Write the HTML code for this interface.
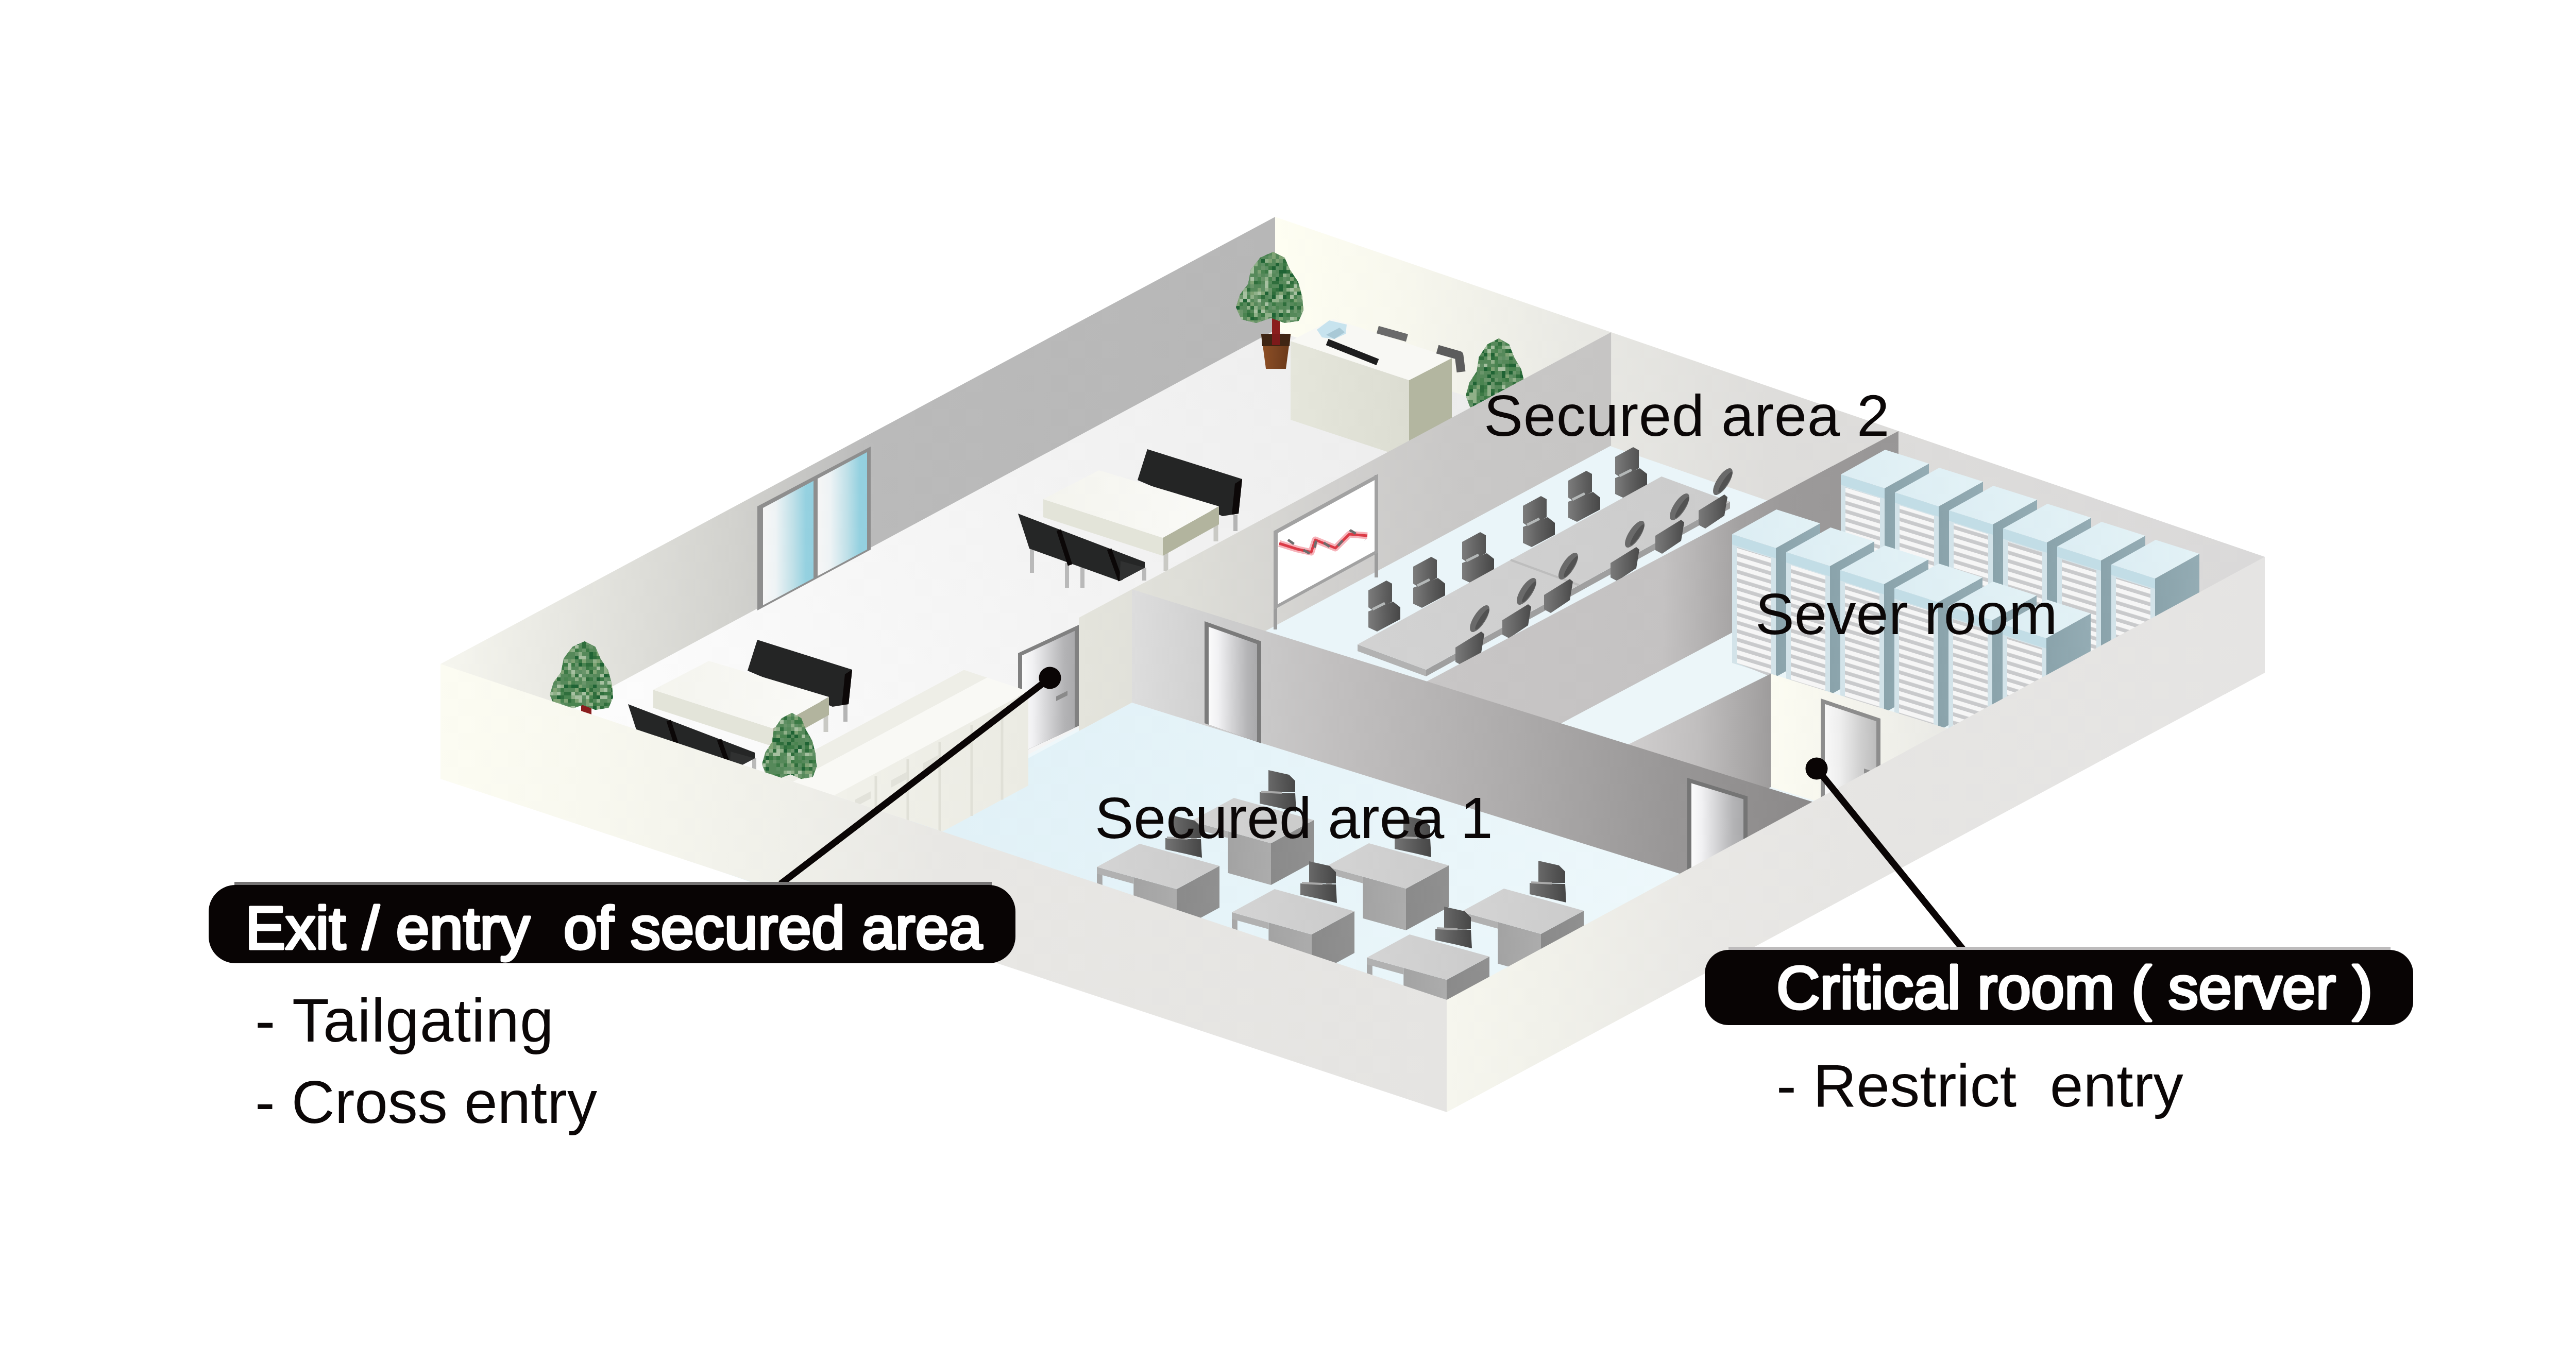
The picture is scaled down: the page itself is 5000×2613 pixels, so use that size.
<!DOCTYPE html>
<html><head><meta charset="utf-8"><title>Secured area diagram</title><style>html,body{margin:0;padding:0;background:#fff;}body{width:5000px;height:2613px;overflow:hidden;font-family:"Liberation Sans",sans-serif;}svg{display:block;}</style></head><body><svg width="5000" height="2613" viewBox="0 0 5000 2613" font-family="'Liberation Sans', sans-serif" shape-rendering="geometricPrecision"><defs><linearGradient id="g1" gradientUnits="userSpaceOnUse" x1="900" y1="1500" x2="3000" y2="700"><stop offset="0" stop-color="#ffffff"/><stop offset="0.45" stop-color="#f5f5f5"/><stop offset="1" stop-color="#ebebeb"/></linearGradient><linearGradient id="g2" gradientUnits="userSpaceOnUse" x1="1900" y1="1500" x2="3300" y2="1900"><stop offset="0" stop-color="#e1f1f7"/><stop offset="1" stop-color="#eef8fb"/></linearGradient><linearGradient id="g3" gradientUnits="userSpaceOnUse" x1="855" y1="0" x2="2475" y2="0"><stop offset="0" stop-color="#f6f6ef"/><stop offset="0.12" stop-color="#eaeae4"/><stop offset="0.35" stop-color="#d2d2ce"/><stop offset="0.52" stop-color="#bababa"/><stop offset="1" stop-color="#b7b7b7"/></linearGradient><linearGradient id="g4" gradientUnits="userSpaceOnUse" x1="2475" y1="0" x2="4396" y2="0"><stop offset="0" stop-color="#fefef2"/><stop offset="0.12" stop-color="#f8f8ee"/><stop offset="0.3" stop-color="#e9e9e4"/><stop offset="0.5" stop-color="#dedddb"/><stop offset="1" stop-color="#dad9d9"/></linearGradient><linearGradient id="g5" gradientUnits="userSpaceOnUse" x1="1481" y1="0" x2="1579" y2="0"><stop offset="0" stop-color="#f6f6f6"/><stop offset="0.25" stop-color="#eef3f5"/><stop offset="0.6" stop-color="#bfe0e8"/><stop offset="0.85" stop-color="#95d1e0"/><stop offset="1" stop-color="#93cfdf"/></linearGradient><linearGradient id="g6" gradientUnits="userSpaceOnUse" x1="1587" y1="0" x2="1683" y2="0"><stop offset="0" stop-color="#f6f6f6"/><stop offset="0.25" stop-color="#eef3f5"/><stop offset="0.6" stop-color="#bfe0e8"/><stop offset="0.85" stop-color="#95d1e0"/><stop offset="1" stop-color="#93cfdf"/></linearGradient><linearGradient id="g7" gradientUnits="userSpaceOnUse" x1="2448" y1="0" x2="2505" y2="0"><stop offset="0" stop-color="#8f4f24"/><stop offset="0.5" stop-color="#7b4421"/><stop offset="1" stop-color="#6a3818"/></linearGradient><clipPath id="c1"><polygon points="2471.1,489.0 2493.3,500.0 2503.8,523.5 2519.5,547.0 2527.4,574.6 2530.0,602.2 2520.8,622.9 2493.3,627.0 2467.1,617.3 2438.3,627.0 2409.5,620.1 2399.0,596.6 2406.9,571.8 2422.6,551.1 2427.8,523.5 2446.2,500.0"/></clipPath><linearGradient id="g8" gradientUnits="userSpaceOnUse" x1="2505" y1="0" x2="2735" y2="0"><stop offset="0" stop-color="#e5e6db"/><stop offset="1" stop-color="#dcddd2"/></linearGradient><clipPath id="c2"><polygon points="2909.3,657.0 2929.2,668.4 2938.6,692.8 2952.6,717.1 2959.7,745.7 2962.0,774.3 2953.8,795.7 2929.2,800.0 2905.8,790.0 2880.1,800.0 2854.4,792.9 2845.0,768.5 2852.0,742.8 2866.1,721.4 2870.7,692.8 2887.1,668.4"/></clipPath><linearGradient id="g9" gradientUnits="userSpaceOnUse" x1="2025" y1="969" x2="2365" y2="989"><stop offset="0" stop-color="#f4f4ee"/><stop offset="1" stop-color="#fafaf7"/></linearGradient><linearGradient id="g10" gradientUnits="userSpaceOnUse" x1="1268" y1="1339" x2="1608" y2="1359"><stop offset="0" stop-color="#f4f4ee"/><stop offset="1" stop-color="#fafaf7"/></linearGradient><clipPath id="c3"><polygon points="1134.7,1245.0 1155.6,1255.6 1165.4,1278.2 1180.2,1300.9 1187.5,1327.5 1190.0,1354.1 1181.4,1374.0 1155.6,1378.0 1131.0,1368.7 1103.9,1378.0 1076.8,1371.3 1067.0,1348.7 1074.4,1324.8 1089.1,1304.8 1094.1,1278.2 1111.3,1255.6"/></clipPath><linearGradient id="g11" gradientUnits="userSpaceOnUse" x1="2094" y1="0" x2="3130" y2="0"><stop offset="0" stop-color="#e4e4dc"/><stop offset="0.2" stop-color="#deded8"/><stop offset="0.45" stop-color="#d2d1cf"/><stop offset="0.7" stop-color="#c9c8c7"/><stop offset="1" stop-color="#c6c5c4"/></linearGradient><linearGradient id="g12" gradientUnits="userSpaceOnUse" x1="2656" y1="0" x2="2718" y2="0"><stop offset="0" stop-color="#7c7c7c"/><stop offset="0.45" stop-color="#626262"/><stop offset="1" stop-color="#474747"/></linearGradient><linearGradient id="g13" gradientUnits="userSpaceOnUse" x1="2743" y1="0" x2="2805" y2="0"><stop offset="0" stop-color="#7c7c7c"/><stop offset="0.45" stop-color="#626262"/><stop offset="1" stop-color="#474747"/></linearGradient><linearGradient id="g14" gradientUnits="userSpaceOnUse" x1="2838" y1="0" x2="2900" y2="0"><stop offset="0" stop-color="#7c7c7c"/><stop offset="0.45" stop-color="#626262"/><stop offset="1" stop-color="#474747"/></linearGradient><linearGradient id="g15" gradientUnits="userSpaceOnUse" x1="2956" y1="0" x2="3018" y2="0"><stop offset="0" stop-color="#7c7c7c"/><stop offset="0.45" stop-color="#626262"/><stop offset="1" stop-color="#474747"/></linearGradient><linearGradient id="g16" gradientUnits="userSpaceOnUse" x1="3044" y1="0" x2="3106" y2="0"><stop offset="0" stop-color="#7c7c7c"/><stop offset="0.45" stop-color="#626262"/><stop offset="1" stop-color="#474747"/></linearGradient><linearGradient id="g17" gradientUnits="userSpaceOnUse" x1="3135" y1="0" x2="3197" y2="0"><stop offset="0" stop-color="#7c7c7c"/><stop offset="0.45" stop-color="#626262"/><stop offset="1" stop-color="#474747"/></linearGradient><linearGradient id="g18" gradientUnits="userSpaceOnUse" x1="2635" y1="1250" x2="3358" y2="975"><stop offset="0" stop-color="#d2d2d2"/><stop offset="1" stop-color="#cccccc"/></linearGradient><linearGradient id="g19" gradientUnits="userSpaceOnUse" x1="3297" y1="0" x2="3353" y2="0"><stop offset="0" stop-color="#7a7a7a"/><stop offset="0.6" stop-color="#5e5e5e"/><stop offset="1" stop-color="#4a4a4a"/></linearGradient><linearGradient id="g20" gradientUnits="userSpaceOnUse" x1="3213" y1="0" x2="3269" y2="0"><stop offset="0" stop-color="#7a7a7a"/><stop offset="0.6" stop-color="#5e5e5e"/><stop offset="1" stop-color="#4a4a4a"/></linearGradient><linearGradient id="g21" gradientUnits="userSpaceOnUse" x1="3126" y1="0" x2="3182" y2="0"><stop offset="0" stop-color="#7a7a7a"/><stop offset="0.6" stop-color="#5e5e5e"/><stop offset="1" stop-color="#4a4a4a"/></linearGradient><linearGradient id="g22" gradientUnits="userSpaceOnUse" x1="2997" y1="0" x2="3053" y2="0"><stop offset="0" stop-color="#7a7a7a"/><stop offset="0.6" stop-color="#5e5e5e"/><stop offset="1" stop-color="#4a4a4a"/></linearGradient><linearGradient id="g23" gradientUnits="userSpaceOnUse" x1="2916" y1="0" x2="2972" y2="0"><stop offset="0" stop-color="#7a7a7a"/><stop offset="0.6" stop-color="#5e5e5e"/><stop offset="1" stop-color="#4a4a4a"/></linearGradient><linearGradient id="g24" gradientUnits="userSpaceOnUse" x1="2825" y1="0" x2="2881" y2="0"><stop offset="0" stop-color="#7a7a7a"/><stop offset="0.6" stop-color="#5e5e5e"/><stop offset="1" stop-color="#4a4a4a"/></linearGradient><linearGradient id="g25" gradientUnits="userSpaceOnUse" x1="2769" y1="0" x2="3686" y2="0"><stop offset="0" stop-color="#c8c6c6"/><stop offset="0.5" stop-color="#c4c2c2"/><stop offset="0.58" stop-color="#b5b3b3"/><stop offset="0.66" stop-color="#a4a2a2"/><stop offset="0.75" stop-color="#9c9a9a"/><stop offset="1" stop-color="#989696"/></linearGradient><pattern id="st" width="40" height="16.5" patternUnits="userSpaceOnUse" patternTransform="skewY(17)"><rect width="40" height="16.5" fill="#c9cacc"/><rect y="0" width="40" height="9" fill="#f6f6f6"/></pattern><linearGradient id="g26" gradientUnits="userSpaceOnUse" x1="3658" y1="0" x2="3744" y2="0"><stop offset="0" stop-color="#8aa3ab"/><stop offset="1" stop-color="#94acb4"/></linearGradient><linearGradient id="g27" gradientUnits="userSpaceOnUse" x1="3573" y1="921" x2="3744" y2="900"><stop offset="0" stop-color="#dcedf3"/><stop offset="1" stop-color="#e3f2f6"/></linearGradient><linearGradient id="g28" gradientUnits="userSpaceOnUse" x1="3763" y1="0" x2="3849" y2="0"><stop offset="0" stop-color="#8aa3ab"/><stop offset="1" stop-color="#94acb4"/></linearGradient><linearGradient id="g29" gradientUnits="userSpaceOnUse" x1="3678" y1="956" x2="3849" y2="935"><stop offset="0" stop-color="#dcedf3"/><stop offset="1" stop-color="#e3f2f6"/></linearGradient><linearGradient id="g30" gradientUnits="userSpaceOnUse" x1="3868" y1="0" x2="3954" y2="0"><stop offset="0" stop-color="#8aa3ab"/><stop offset="1" stop-color="#94acb4"/></linearGradient><linearGradient id="g31" gradientUnits="userSpaceOnUse" x1="3783" y1="991" x2="3954" y2="970"><stop offset="0" stop-color="#dcedf3"/><stop offset="1" stop-color="#e3f2f6"/></linearGradient><linearGradient id="g32" gradientUnits="userSpaceOnUse" x1="3973" y1="0" x2="4059" y2="0"><stop offset="0" stop-color="#8aa3ab"/><stop offset="1" stop-color="#94acb4"/></linearGradient><linearGradient id="g33" gradientUnits="userSpaceOnUse" x1="3888" y1="1026" x2="4059" y2="1005"><stop offset="0" stop-color="#dcedf3"/><stop offset="1" stop-color="#e3f2f6"/></linearGradient><linearGradient id="g34" gradientUnits="userSpaceOnUse" x1="4078" y1="0" x2="4164" y2="0"><stop offset="0" stop-color="#8aa3ab"/><stop offset="1" stop-color="#94acb4"/></linearGradient><linearGradient id="g35" gradientUnits="userSpaceOnUse" x1="3993" y1="1061" x2="4164" y2="1040"><stop offset="0" stop-color="#dcedf3"/><stop offset="1" stop-color="#e3f2f6"/></linearGradient><linearGradient id="g36" gradientUnits="userSpaceOnUse" x1="4183" y1="0" x2="4269" y2="0"><stop offset="0" stop-color="#8aa3ab"/><stop offset="1" stop-color="#94acb4"/></linearGradient><linearGradient id="g37" gradientUnits="userSpaceOnUse" x1="4098" y1="1096" x2="4269" y2="1075"><stop offset="0" stop-color="#dcedf3"/><stop offset="1" stop-color="#e3f2f6"/></linearGradient><linearGradient id="g38" gradientUnits="userSpaceOnUse" x1="3447" y1="0" x2="3533" y2="0"><stop offset="0" stop-color="#8aa3ab"/><stop offset="1" stop-color="#94acb4"/></linearGradient><linearGradient id="g39" gradientUnits="userSpaceOnUse" x1="3362" y1="1037" x2="3533" y2="1016"><stop offset="0" stop-color="#dcedf3"/><stop offset="1" stop-color="#e3f2f6"/></linearGradient><linearGradient id="g40" gradientUnits="userSpaceOnUse" x1="3552" y1="0" x2="3638" y2="0"><stop offset="0" stop-color="#8aa3ab"/><stop offset="1" stop-color="#94acb4"/></linearGradient><linearGradient id="g41" gradientUnits="userSpaceOnUse" x1="3467" y1="1072" x2="3638" y2="1051"><stop offset="0" stop-color="#dcedf3"/><stop offset="1" stop-color="#e3f2f6"/></linearGradient><linearGradient id="g42" gradientUnits="userSpaceOnUse" x1="3657" y1="0" x2="3743" y2="0"><stop offset="0" stop-color="#8aa3ab"/><stop offset="1" stop-color="#94acb4"/></linearGradient><linearGradient id="g43" gradientUnits="userSpaceOnUse" x1="3572" y1="1107" x2="3743" y2="1086"><stop offset="0" stop-color="#dcedf3"/><stop offset="1" stop-color="#e3f2f6"/></linearGradient><linearGradient id="g44" gradientUnits="userSpaceOnUse" x1="3762" y1="0" x2="3848" y2="0"><stop offset="0" stop-color="#8aa3ab"/><stop offset="1" stop-color="#94acb4"/></linearGradient><linearGradient id="g45" gradientUnits="userSpaceOnUse" x1="3677" y1="1142" x2="3848" y2="1121"><stop offset="0" stop-color="#dcedf3"/><stop offset="1" stop-color="#e3f2f6"/></linearGradient><linearGradient id="g46" gradientUnits="userSpaceOnUse" x1="3867" y1="0" x2="3953" y2="0"><stop offset="0" stop-color="#8aa3ab"/><stop offset="1" stop-color="#94acb4"/></linearGradient><linearGradient id="g47" gradientUnits="userSpaceOnUse" x1="3782" y1="1177" x2="3953" y2="1156"><stop offset="0" stop-color="#dcedf3"/><stop offset="1" stop-color="#e3f2f6"/></linearGradient><linearGradient id="g48" gradientUnits="userSpaceOnUse" x1="3972" y1="0" x2="4058" y2="0"><stop offset="0" stop-color="#8aa3ab"/><stop offset="1" stop-color="#94acb4"/></linearGradient><linearGradient id="g49" gradientUnits="userSpaceOnUse" x1="3887" y1="1212" x2="4058" y2="1191"><stop offset="0" stop-color="#dcedf3"/><stop offset="1" stop-color="#e3f2f6"/></linearGradient><linearGradient id="g50" gradientUnits="userSpaceOnUse" x1="3161" y1="0" x2="3437" y2="0"><stop offset="0" stop-color="#d0cece"/><stop offset="0.5" stop-color="#c0bebe"/><stop offset="1" stop-color="#9e9c9c"/></linearGradient><linearGradient id="g51" gradientUnits="userSpaceOnUse" x1="3437" y1="0" x2="3780" y2="0"><stop offset="0" stop-color="#fcfcf2"/><stop offset="0.5" stop-color="#f3f3ec"/><stop offset="1" stop-color="#e9e9e5"/></linearGradient><linearGradient id="g52" gradientUnits="userSpaceOnUse" x1="3542" y1="0" x2="3642" y2="0"><stop offset="0" stop-color="#f8f8f8"/><stop offset="0.3" stop-color="#eeeeee"/><stop offset="0.7" stop-color="#cfcfcf"/><stop offset="1" stop-color="#bdbdbd"/></linearGradient><linearGradient id="g53" gradientUnits="userSpaceOnUse" x1="2197" y1="0" x2="3518" y2="0"><stop offset="0" stop-color="#dddddd"/><stop offset="0.12" stop-color="#cfcfcf"/><stop offset="0.3" stop-color="#c1bfbf"/><stop offset="0.55" stop-color="#aeacac"/><stop offset="0.8" stop-color="#989696"/><stop offset="1" stop-color="#8b8989"/></linearGradient><linearGradient id="g54" gradientUnits="userSpaceOnUse" x1="2346" y1="0" x2="2440" y2="0"><stop offset="0" stop-color="#fbfbfb"/><stop offset="0.2" stop-color="#f1f1f3"/><stop offset="0.5" stop-color="#d2d2d4"/><stop offset="0.8" stop-color="#b4b4b6"/><stop offset="1" stop-color="#aaaaac"/></linearGradient><linearGradient id="g55" gradientUnits="userSpaceOnUse" x1="3283" y1="0" x2="3384" y2="0"><stop offset="0" stop-color="#fbfbfb"/><stop offset="0.2" stop-color="#f1f1f3"/><stop offset="0.5" stop-color="#d2d2d4"/><stop offset="0.8" stop-color="#b4b4b6"/><stop offset="1" stop-color="#aaaaac"/></linearGradient><linearGradient id="g56" gradientUnits="userSpaceOnUse" x1="1984" y1="0" x2="2086" y2="0"><stop offset="0" stop-color="#fbfbfb"/><stop offset="0.2" stop-color="#f1f1f3"/><stop offset="0.5" stop-color="#d2d2d4"/><stop offset="0.8" stop-color="#b4b4b6"/><stop offset="1" stop-color="#aaaaac"/></linearGradient><linearGradient id="g57" gradientUnits="userSpaceOnUse" x1="1617" y1="0" x2="1996" y2="0"><stop offset="0" stop-color="#f1f1ea"/><stop offset="1" stop-color="#ebebe3"/></linearGradient><clipPath id="c4"><polygon points="1537.3,1384.0 1555.3,1394.2 1563.8,1416.0 1576.5,1437.8 1582.9,1463.4 1585.0,1489.0 1577.6,1508.2 1555.3,1512.0 1534.1,1503.0 1510.8,1512.0 1487.5,1505.6 1479.0,1483.8 1485.4,1460.8 1498.1,1441.6 1502.3,1416.0 1517.2,1394.2"/></clipPath><linearGradient id="g58" gradientUnits="userSpaceOnUse" x1="2445" y1="0" x2="2516" y2="0"><stop offset="0" stop-color="#747474"/><stop offset="0.5" stop-color="#5c5c5c"/><stop offset="1" stop-color="#464646"/></linearGradient><linearGradient id="g59" gradientUnits="userSpaceOnUse" x1="2383.3" y1="0" x2="2467" y2="0"><stop offset="0" stop-color="#a3a3a3"/><stop offset="1" stop-color="#acacac"/></linearGradient><linearGradient id="g60" gradientUnits="userSpaceOnUse" x1="2467" y1="0" x2="2550" y2="0"><stop offset="0" stop-color="#8a8a8a"/><stop offset="1" stop-color="#909090"/></linearGradient><linearGradient id="g61" gradientUnits="userSpaceOnUse" x1="2312" y1="1594" x2="2550" y2="1584"><stop offset="0" stop-color="#d4d4d4"/><stop offset="1" stop-color="#cbcbcb"/></linearGradient><linearGradient id="g62" gradientUnits="userSpaceOnUse" x1="2707" y1="0" x2="2778" y2="0"><stop offset="0" stop-color="#747474"/><stop offset="0.5" stop-color="#5c5c5c"/><stop offset="1" stop-color="#464646"/></linearGradient><linearGradient id="g63" gradientUnits="userSpaceOnUse" x1="2645.3" y1="0" x2="2729" y2="0"><stop offset="0" stop-color="#a3a3a3"/><stop offset="1" stop-color="#acacac"/></linearGradient><linearGradient id="g64" gradientUnits="userSpaceOnUse" x1="2729" y1="0" x2="2812" y2="0"><stop offset="0" stop-color="#8a8a8a"/><stop offset="1" stop-color="#909090"/></linearGradient><linearGradient id="g65" gradientUnits="userSpaceOnUse" x1="2574" y1="1682" x2="2812" y2="1672"><stop offset="0" stop-color="#d4d4d4"/><stop offset="1" stop-color="#cbcbcb"/></linearGradient><linearGradient id="g66" gradientUnits="userSpaceOnUse" x1="2969" y1="0" x2="3040" y2="0"><stop offset="0" stop-color="#747474"/><stop offset="0.5" stop-color="#5c5c5c"/><stop offset="1" stop-color="#464646"/></linearGradient><linearGradient id="g67" gradientUnits="userSpaceOnUse" x1="2907.3" y1="0" x2="2991" y2="0"><stop offset="0" stop-color="#a3a3a3"/><stop offset="1" stop-color="#acacac"/></linearGradient><linearGradient id="g68" gradientUnits="userSpaceOnUse" x1="2991" y1="0" x2="3074" y2="0"><stop offset="0" stop-color="#8a8a8a"/><stop offset="1" stop-color="#909090"/></linearGradient><linearGradient id="g69" gradientUnits="userSpaceOnUse" x1="2836" y1="1770" x2="3074" y2="1760"><stop offset="0" stop-color="#d4d4d4"/><stop offset="1" stop-color="#cbcbcb"/></linearGradient><linearGradient id="g70" gradientUnits="userSpaceOnUse" x1="2262" y1="0" x2="2333" y2="0"><stop offset="0" stop-color="#747474"/><stop offset="0.5" stop-color="#5c5c5c"/><stop offset="1" stop-color="#464646"/></linearGradient><linearGradient id="g71" gradientUnits="userSpaceOnUse" x1="2200.3" y1="0" x2="2284" y2="0"><stop offset="0" stop-color="#a3a3a3"/><stop offset="1" stop-color="#acacac"/></linearGradient><linearGradient id="g72" gradientUnits="userSpaceOnUse" x1="2284" y1="0" x2="2367" y2="0"><stop offset="0" stop-color="#8a8a8a"/><stop offset="1" stop-color="#909090"/></linearGradient><linearGradient id="g73" gradientUnits="userSpaceOnUse" x1="2129" y1="1683" x2="2367" y2="1673"><stop offset="0" stop-color="#d4d4d4"/><stop offset="1" stop-color="#cbcbcb"/></linearGradient><linearGradient id="g74" gradientUnits="userSpaceOnUse" x1="2524" y1="0" x2="2595" y2="0"><stop offset="0" stop-color="#747474"/><stop offset="0.5" stop-color="#5c5c5c"/><stop offset="1" stop-color="#464646"/></linearGradient><linearGradient id="g75" gradientUnits="userSpaceOnUse" x1="2462.3" y1="0" x2="2546" y2="0"><stop offset="0" stop-color="#a3a3a3"/><stop offset="1" stop-color="#acacac"/></linearGradient><linearGradient id="g76" gradientUnits="userSpaceOnUse" x1="2546" y1="0" x2="2629" y2="0"><stop offset="0" stop-color="#8a8a8a"/><stop offset="1" stop-color="#909090"/></linearGradient><linearGradient id="g77" gradientUnits="userSpaceOnUse" x1="2391" y1="1771" x2="2629" y2="1761"><stop offset="0" stop-color="#d4d4d4"/><stop offset="1" stop-color="#cbcbcb"/></linearGradient><linearGradient id="g78" gradientUnits="userSpaceOnUse" x1="2786" y1="0" x2="2857" y2="0"><stop offset="0" stop-color="#747474"/><stop offset="0.5" stop-color="#5c5c5c"/><stop offset="1" stop-color="#464646"/></linearGradient><linearGradient id="g79" gradientUnits="userSpaceOnUse" x1="2724.3" y1="0" x2="2808" y2="0"><stop offset="0" stop-color="#a3a3a3"/><stop offset="1" stop-color="#acacac"/></linearGradient><linearGradient id="g80" gradientUnits="userSpaceOnUse" x1="2808" y1="0" x2="2891" y2="0"><stop offset="0" stop-color="#8a8a8a"/><stop offset="1" stop-color="#909090"/></linearGradient><linearGradient id="g81" gradientUnits="userSpaceOnUse" x1="2653" y1="1859" x2="2891" y2="1849"><stop offset="0" stop-color="#d4d4d4"/><stop offset="1" stop-color="#cbcbcb"/></linearGradient><linearGradient id="g82" gradientUnits="userSpaceOnUse" x1="855" y1="0" x2="2808" y2="0"><stop offset="0" stop-color="#fcfcf2"/><stop offset="0.15" stop-color="#f8f8ef"/><stop offset="0.35" stop-color="#efefe9"/><stop offset="0.5" stop-color="#e8e7e4"/><stop offset="1" stop-color="#e5e4e2"/></linearGradient><linearGradient id="g83" gradientUnits="userSpaceOnUse" x1="2808" y1="0" x2="4396" y2="0"><stop offset="0" stop-color="#f6f6ee"/><stop offset="0.12" stop-color="#f1f1ea"/><stop offset="0.3" stop-color="#e9e8e5"/><stop offset="0.5" stop-color="#e6e5e3"/><stop offset="1" stop-color="#e5e4e3"/></linearGradient></defs><rect width="5000" height="2613" fill="#ffffff"/><polygon points="855.0,1502.0 2475.0,641.0 4396.0,1296.0 2808.0,2149.0" fill="#eef7fa" />
<polygon points="855.0,1502.0 2475.0,641.0 3127.1,865.0 1512.2,1721.4" fill="url(#g1)" />
<polygon points="2197.0,1364.0 3517.8,1776.6 4396.0,1296.0 2808.0,2149.0 855.0,1502.0 1512.2,1731.4" fill="url(#g2)" />
<polygon points="3127.1,865.0 3684.9,1056.7 2769.0,1543.0 2197.0,1364.0" fill="#eaf5f9" />
<polygon points="3684.9,1056.7 4396.0,1296.0 3517.8,1776.6 2769.0,1543.0" fill="#ecf6f9" />
<polygon points="2475.0,421.0 855.0,1289.0 855.0,1512.0 2475.0,641.0" fill="url(#g3)" />
<polygon points="2475.0,421.0 4396.0,1081.0 4396.0,1306.0 2475.0,641.0" fill="url(#g4)" />
<polygon points="1470.0,983.0 1690.0,867.0 1690.0,1067.0 1470.0,1185.0" fill="#8e8e8e" />
<polygon points="1481.0,986.1 1579.0,933.5 1579.0,1122.5 1481.0,1175.1" fill="url(#g5)" />
<polygon points="1587.0,929.2 1683.0,877.7 1683.0,1066.7 1587.0,1118.2" fill="url(#g6)" />
<g>
<rect x="2469" y="610" width="15" height="58" fill="#8a1d1d"/>
<polygon points="2448.0,648.0 2505.0,648.0 2495.9,716.0 2457.1,716.0" fill="url(#g7)" />
<polygon points="2448.0,648.0 2505.0,648.0 2503.0,672.0 2450.0,672.0" fill="#3f2513" />
<rect x="2469" y="648" width="15" height="22" fill="#7d1a1a"/>
<polygon points="2471.1,489.0 2493.3,500.0 2503.8,523.5 2519.5,547.0 2527.4,574.6 2530.0,602.2 2520.8,622.9 2493.3,627.0 2467.1,617.3 2438.3,627.0 2409.5,620.1 2399.0,596.6 2406.9,571.8 2422.6,551.1 2427.8,523.5 2446.2,500.0" fill="#56895a" />
<g clip-path="url(#c1)">
<rect x="2399" y="489" width="7" height="7" fill="#7fa374"/>
<rect x="2399" y="496" width="7" height="7" fill="#2f6e3c"/>
<rect x="2399" y="503" width="7" height="7" fill="#5e8f63"/>
<rect x="2399" y="510" width="7" height="7" fill="#2f6e3c"/>
<rect x="2399" y="524" width="7" height="7" fill="#3c7a45"/>
<rect x="2399" y="531" width="7" height="7" fill="#3c7a45"/>
<rect x="2399" y="538" width="7" height="7" fill="#5e8f63"/>
<rect x="2399" y="545" width="7" height="7" fill="#3c7a45"/>
<rect x="2399" y="559" width="7" height="7" fill="#2f6e3c"/>
<rect x="2399" y="566" width="7" height="7" fill="#4a8450"/>
<rect x="2399" y="573" width="7" height="7" fill="#8fb088"/>
<rect x="2399" y="580" width="7" height="7" fill="#7fa374"/>
<rect x="2399" y="587" width="7" height="7" fill="#7fa374"/>
<rect x="2399" y="594" width="7" height="7" fill="#1f6334"/>
<rect x="2399" y="601" width="7" height="7" fill="#7fa374"/>
<rect x="2399" y="608" width="7" height="7" fill="#8fb088"/>
<rect x="2399" y="615" width="7" height="7" fill="#5e8f63"/>
<rect x="2406" y="489" width="7" height="7" fill="#8fb088"/>
<rect x="2406" y="496" width="7" height="7" fill="#5e8f63"/>
<rect x="2406" y="503" width="7" height="7" fill="#6a956a"/>
<rect x="2406" y="510" width="7" height="7" fill="#a6c0a0"/>
<rect x="2406" y="517" width="7" height="7" fill="#8fb088"/>
<rect x="2406" y="531" width="7" height="7" fill="#8fb088"/>
<rect x="2406" y="538" width="7" height="7" fill="#1f6334"/>
<rect x="2406" y="545" width="7" height="7" fill="#6a956a"/>
<rect x="2406" y="559" width="7" height="7" fill="#3c7a45"/>
<rect x="2406" y="566" width="7" height="7" fill="#4a8450"/>
<rect x="2406" y="573" width="7" height="7" fill="#6a956a"/>
<rect x="2406" y="580" width="7" height="7" fill="#a6c0a0"/>
<rect x="2406" y="587" width="7" height="7" fill="#3c7a45"/>
<rect x="2406" y="601" width="7" height="7" fill="#6a956a"/>
<rect x="2406" y="608" width="7" height="7" fill="#6a956a"/>
<rect x="2406" y="615" width="7" height="7" fill="#a6c0a0"/>
<rect x="2406" y="622" width="7" height="7" fill="#3c7a45"/>
<rect x="2413" y="496" width="7" height="7" fill="#3c7a45"/>
<rect x="2413" y="503" width="7" height="7" fill="#1f6334"/>
<rect x="2413" y="510" width="7" height="7" fill="#a6c0a0"/>
<rect x="2413" y="517" width="7" height="7" fill="#4a8450"/>
<rect x="2413" y="531" width="7" height="7" fill="#a6c0a0"/>
<rect x="2413" y="538" width="7" height="7" fill="#3c7a45"/>
<rect x="2413" y="545" width="7" height="7" fill="#8fb088"/>
<rect x="2413" y="559" width="7" height="7" fill="#8fb088"/>
<rect x="2413" y="566" width="7" height="7" fill="#a6c0a0"/>
<rect x="2413" y="573" width="7" height="7" fill="#a6c0a0"/>
<rect x="2413" y="580" width="7" height="7" fill="#1f6334"/>
<rect x="2413" y="608" width="7" height="7" fill="#4a8450"/>
<rect x="2413" y="622" width="7" height="7" fill="#4a8450"/>
<rect x="2420" y="496" width="7" height="7" fill="#7fa374"/>
<rect x="2420" y="503" width="7" height="7" fill="#8fb088"/>
<rect x="2420" y="510" width="7" height="7" fill="#7fa374"/>
<rect x="2420" y="517" width="7" height="7" fill="#2f6e3c"/>
<rect x="2420" y="524" width="7" height="7" fill="#5e8f63"/>
<rect x="2420" y="531" width="7" height="7" fill="#6a956a"/>
<rect x="2420" y="545" width="7" height="7" fill="#5e8f63"/>
<rect x="2420" y="559" width="7" height="7" fill="#2f6e3c"/>
<rect x="2420" y="566" width="7" height="7" fill="#5e8f63"/>
<rect x="2420" y="573" width="7" height="7" fill="#4a8450"/>
<rect x="2420" y="580" width="7" height="7" fill="#a6c0a0"/>
<rect x="2420" y="587" width="7" height="7" fill="#2f6e3c"/>
<rect x="2420" y="594" width="7" height="7" fill="#8fb088"/>
<rect x="2420" y="601" width="7" height="7" fill="#3c7a45"/>
<rect x="2420" y="608" width="7" height="7" fill="#2f6e3c"/>
<rect x="2420" y="615" width="7" height="7" fill="#7fa374"/>
<rect x="2420" y="622" width="7" height="7" fill="#6a956a"/>
<rect x="2427" y="489" width="7" height="7" fill="#3c7a45"/>
<rect x="2427" y="503" width="7" height="7" fill="#7fa374"/>
<rect x="2427" y="510" width="7" height="7" fill="#6a956a"/>
<rect x="2427" y="517" width="7" height="7" fill="#a6c0a0"/>
<rect x="2427" y="524" width="7" height="7" fill="#a6c0a0"/>
<rect x="2427" y="538" width="7" height="7" fill="#a6c0a0"/>
<rect x="2427" y="545" width="7" height="7" fill="#7fa374"/>
<rect x="2427" y="552" width="7" height="7" fill="#6a956a"/>
<rect x="2427" y="566" width="7" height="7" fill="#7fa374"/>
<rect x="2427" y="573" width="7" height="7" fill="#8fb088"/>
<rect x="2427" y="587" width="7" height="7" fill="#7fa374"/>
<rect x="2427" y="594" width="7" height="7" fill="#2f6e3c"/>
<rect x="2427" y="608" width="7" height="7" fill="#3c7a45"/>
<rect x="2427" y="615" width="7" height="7" fill="#1f6334"/>
<rect x="2427" y="622" width="7" height="7" fill="#7fa374"/>
<rect x="2434" y="489" width="7" height="7" fill="#8fb088"/>
<rect x="2434" y="496" width="7" height="7" fill="#5e8f63"/>
<rect x="2434" y="503" width="7" height="7" fill="#8fb088"/>
<rect x="2434" y="510" width="7" height="7" fill="#8fb088"/>
<rect x="2434" y="538" width="7" height="7" fill="#5e8f63"/>
<rect x="2434" y="545" width="7" height="7" fill="#2f6e3c"/>
<rect x="2434" y="566" width="7" height="7" fill="#8fb088"/>
<rect x="2434" y="573" width="7" height="7" fill="#6a956a"/>
<rect x="2434" y="580" width="7" height="7" fill="#6a956a"/>
<rect x="2434" y="594" width="7" height="7" fill="#8fb088"/>
<rect x="2434" y="601" width="7" height="7" fill="#a6c0a0"/>
<rect x="2434" y="608" width="7" height="7" fill="#8fb088"/>
<rect x="2434" y="615" width="7" height="7" fill="#2f6e3c"/>
<rect x="2434" y="622" width="7" height="7" fill="#6a956a"/>
<rect x="2441" y="496" width="7" height="7" fill="#3c7a45"/>
<rect x="2441" y="524" width="7" height="7" fill="#7fa374"/>
<rect x="2441" y="531" width="7" height="7" fill="#6a956a"/>
<rect x="2441" y="538" width="7" height="7" fill="#4a8450"/>
<rect x="2441" y="545" width="7" height="7" fill="#3c7a45"/>
<rect x="2441" y="559" width="7" height="7" fill="#7fa374"/>
<rect x="2441" y="566" width="7" height="7" fill="#a6c0a0"/>
<rect x="2441" y="580" width="7" height="7" fill="#a6c0a0"/>
<rect x="2441" y="587" width="7" height="7" fill="#6a956a"/>
<rect x="2441" y="594" width="7" height="7" fill="#5e8f63"/>
<rect x="2441" y="601" width="7" height="7" fill="#2f6e3c"/>
<rect x="2441" y="622" width="7" height="7" fill="#7fa374"/>
<rect x="2448" y="489" width="7" height="7" fill="#8fb088"/>
<rect x="2448" y="503" width="7" height="7" fill="#1f6334"/>
<rect x="2448" y="510" width="7" height="7" fill="#5e8f63"/>
<rect x="2448" y="517" width="7" height="7" fill="#6a956a"/>
<rect x="2448" y="524" width="7" height="7" fill="#4a8450"/>
<rect x="2448" y="538" width="7" height="7" fill="#6a956a"/>
<rect x="2448" y="552" width="7" height="7" fill="#5e8f63"/>
<rect x="2448" y="559" width="7" height="7" fill="#5e8f63"/>
<rect x="2448" y="566" width="7" height="7" fill="#7fa374"/>
<rect x="2448" y="573" width="7" height="7" fill="#2f6e3c"/>
<rect x="2448" y="594" width="7" height="7" fill="#7fa374"/>
<rect x="2448" y="601" width="7" height="7" fill="#a6c0a0"/>
<rect x="2448" y="608" width="7" height="7" fill="#3c7a45"/>
<rect x="2448" y="615" width="7" height="7" fill="#6a956a"/>
<rect x="2448" y="622" width="7" height="7" fill="#5e8f63"/>
<rect x="2455" y="489" width="7" height="7" fill="#3c7a45"/>
<rect x="2455" y="503" width="7" height="7" fill="#8fb088"/>
<rect x="2455" y="510" width="7" height="7" fill="#3c7a45"/>
<rect x="2455" y="517" width="7" height="7" fill="#5e8f63"/>
<rect x="2455" y="524" width="7" height="7" fill="#3c7a45"/>
<rect x="2455" y="531" width="7" height="7" fill="#5e8f63"/>
<rect x="2455" y="538" width="7" height="7" fill="#8fb088"/>
<rect x="2455" y="545" width="7" height="7" fill="#a6c0a0"/>
<rect x="2455" y="552" width="7" height="7" fill="#a6c0a0"/>
<rect x="2455" y="559" width="7" height="7" fill="#8fb088"/>
<rect x="2455" y="566" width="7" height="7" fill="#1f6334"/>
<rect x="2455" y="587" width="7" height="7" fill="#a6c0a0"/>
<rect x="2455" y="594" width="7" height="7" fill="#3c7a45"/>
<rect x="2455" y="601" width="7" height="7" fill="#6a956a"/>
<rect x="2455" y="608" width="7" height="7" fill="#8fb088"/>
<rect x="2455" y="615" width="7" height="7" fill="#8fb088"/>
<rect x="2455" y="622" width="7" height="7" fill="#3c7a45"/>
<rect x="2462" y="496" width="7" height="7" fill="#6a956a"/>
<rect x="2462" y="503" width="7" height="7" fill="#7fa374"/>
<rect x="2462" y="517" width="7" height="7" fill="#3c7a45"/>
<rect x="2462" y="524" width="7" height="7" fill="#a6c0a0"/>
<rect x="2462" y="531" width="7" height="7" fill="#8fb088"/>
<rect x="2462" y="538" width="7" height="7" fill="#4a8450"/>
<rect x="2462" y="552" width="7" height="7" fill="#4a8450"/>
<rect x="2462" y="559" width="7" height="7" fill="#6a956a"/>
<rect x="2462" y="566" width="7" height="7" fill="#6a956a"/>
<rect x="2462" y="573" width="7" height="7" fill="#5e8f63"/>
<rect x="2462" y="580" width="7" height="7" fill="#2f6e3c"/>
<rect x="2462" y="587" width="7" height="7" fill="#5e8f63"/>
<rect x="2462" y="594" width="7" height="7" fill="#5e8f63"/>
<rect x="2462" y="608" width="7" height="7" fill="#8fb088"/>
<rect x="2462" y="622" width="7" height="7" fill="#1f6334"/>
<rect x="2469" y="489" width="7" height="7" fill="#7fa374"/>
<rect x="2469" y="496" width="7" height="7" fill="#7fa374"/>
<rect x="2469" y="517" width="7" height="7" fill="#1f6334"/>
<rect x="2469" y="524" width="7" height="7" fill="#5e8f63"/>
<rect x="2469" y="538" width="7" height="7" fill="#6a956a"/>
<rect x="2469" y="545" width="7" height="7" fill="#2f6e3c"/>
<rect x="2469" y="559" width="7" height="7" fill="#3c7a45"/>
<rect x="2469" y="566" width="7" height="7" fill="#2f6e3c"/>
<rect x="2469" y="573" width="7" height="7" fill="#1f6334"/>
<rect x="2469" y="580" width="7" height="7" fill="#8fb088"/>
<rect x="2469" y="587" width="7" height="7" fill="#3c7a45"/>
<rect x="2469" y="594" width="7" height="7" fill="#6a956a"/>
<rect x="2469" y="608" width="7" height="7" fill="#1f6334"/>
<rect x="2469" y="615" width="7" height="7" fill="#2f6e3c"/>
<rect x="2469" y="622" width="7" height="7" fill="#8fb088"/>
<rect x="2476" y="503" width="7" height="7" fill="#7fa374"/>
<rect x="2476" y="510" width="7" height="7" fill="#1f6334"/>
<rect x="2476" y="517" width="7" height="7" fill="#5e8f63"/>
<rect x="2476" y="531" width="7" height="7" fill="#5e8f63"/>
<rect x="2476" y="538" width="7" height="7" fill="#1f6334"/>
<rect x="2476" y="545" width="7" height="7" fill="#2f6e3c"/>
<rect x="2476" y="559" width="7" height="7" fill="#2f6e3c"/>
<rect x="2476" y="573" width="7" height="7" fill="#8fb088"/>
<rect x="2476" y="580" width="7" height="7" fill="#8fb088"/>
<rect x="2476" y="594" width="7" height="7" fill="#4a8450"/>
<rect x="2476" y="601" width="7" height="7" fill="#5e8f63"/>
<rect x="2476" y="615" width="7" height="7" fill="#5e8f63"/>
<rect x="2476" y="622" width="7" height="7" fill="#8fb088"/>
<rect x="2483" y="496" width="7" height="7" fill="#7fa374"/>
<rect x="2483" y="503" width="7" height="7" fill="#6a956a"/>
<rect x="2483" y="524" width="7" height="7" fill="#1f6334"/>
<rect x="2483" y="531" width="7" height="7" fill="#2f6e3c"/>
<rect x="2483" y="538" width="7" height="7" fill="#4a8450"/>
<rect x="2483" y="552" width="7" height="7" fill="#1f6334"/>
<rect x="2483" y="559" width="7" height="7" fill="#1f6334"/>
<rect x="2483" y="566" width="7" height="7" fill="#7fa374"/>
<rect x="2483" y="573" width="7" height="7" fill="#a6c0a0"/>
<rect x="2483" y="580" width="7" height="7" fill="#6a956a"/>
<rect x="2483" y="601" width="7" height="7" fill="#8fb088"/>
<rect x="2483" y="608" width="7" height="7" fill="#1f6334"/>
<rect x="2483" y="615" width="7" height="7" fill="#7fa374"/>
<rect x="2483" y="622" width="7" height="7" fill="#4a8450"/>
<rect x="2490" y="489" width="7" height="7" fill="#1f6334"/>
<rect x="2490" y="496" width="7" height="7" fill="#8fb088"/>
<rect x="2490" y="503" width="7" height="7" fill="#2f6e3c"/>
<rect x="2490" y="510" width="7" height="7" fill="#3c7a45"/>
<rect x="2490" y="517" width="7" height="7" fill="#2f6e3c"/>
<rect x="2490" y="524" width="7" height="7" fill="#1f6334"/>
<rect x="2490" y="531" width="7" height="7" fill="#8fb088"/>
<rect x="2490" y="538" width="7" height="7" fill="#5e8f63"/>
<rect x="2490" y="552" width="7" height="7" fill="#4a8450"/>
<rect x="2490" y="573" width="7" height="7" fill="#1f6334"/>
<rect x="2490" y="587" width="7" height="7" fill="#2f6e3c"/>
<rect x="2490" y="608" width="7" height="7" fill="#4a8450"/>
<rect x="2497" y="489" width="7" height="7" fill="#5e8f63"/>
<rect x="2497" y="503" width="7" height="7" fill="#2f6e3c"/>
<rect x="2497" y="517" width="7" height="7" fill="#8fb088"/>
<rect x="2497" y="524" width="7" height="7" fill="#2f6e3c"/>
<rect x="2497" y="531" width="7" height="7" fill="#6a956a"/>
<rect x="2497" y="545" width="7" height="7" fill="#a6c0a0"/>
<rect x="2497" y="552" width="7" height="7" fill="#2f6e3c"/>
<rect x="2497" y="559" width="7" height="7" fill="#8fb088"/>
<rect x="2497" y="566" width="7" height="7" fill="#2f6e3c"/>
<rect x="2497" y="573" width="7" height="7" fill="#3c7a45"/>
<rect x="2497" y="587" width="7" height="7" fill="#5e8f63"/>
<rect x="2497" y="594" width="7" height="7" fill="#5e8f63"/>
<rect x="2497" y="601" width="7" height="7" fill="#a6c0a0"/>
<rect x="2497" y="608" width="7" height="7" fill="#3c7a45"/>
<rect x="2497" y="622" width="7" height="7" fill="#8fb088"/>
<rect x="2504" y="489" width="7" height="7" fill="#a6c0a0"/>
<rect x="2504" y="496" width="7" height="7" fill="#4a8450"/>
<rect x="2504" y="503" width="7" height="7" fill="#1f6334"/>
<rect x="2504" y="517" width="7" height="7" fill="#8fb088"/>
<rect x="2504" y="524" width="7" height="7" fill="#7fa374"/>
<rect x="2504" y="531" width="7" height="7" fill="#1f6334"/>
<rect x="2504" y="538" width="7" height="7" fill="#7fa374"/>
<rect x="2504" y="545" width="7" height="7" fill="#2f6e3c"/>
<rect x="2504" y="552" width="7" height="7" fill="#3c7a45"/>
<rect x="2504" y="559" width="7" height="7" fill="#a6c0a0"/>
<rect x="2504" y="566" width="7" height="7" fill="#5e8f63"/>
<rect x="2504" y="573" width="7" height="7" fill="#a6c0a0"/>
<rect x="2504" y="580" width="7" height="7" fill="#3c7a45"/>
<rect x="2504" y="594" width="7" height="7" fill="#1f6334"/>
<rect x="2504" y="615" width="7" height="7" fill="#a6c0a0"/>
<rect x="2504" y="622" width="7" height="7" fill="#5e8f63"/>
<rect x="2511" y="496" width="7" height="7" fill="#1f6334"/>
<rect x="2511" y="503" width="7" height="7" fill="#8fb088"/>
<rect x="2511" y="510" width="7" height="7" fill="#3c7a45"/>
<rect x="2511" y="517" width="7" height="7" fill="#5e8f63"/>
<rect x="2511" y="524" width="7" height="7" fill="#6a956a"/>
<rect x="2511" y="531" width="7" height="7" fill="#5e8f63"/>
<rect x="2511" y="538" width="7" height="7" fill="#3c7a45"/>
<rect x="2511" y="552" width="7" height="7" fill="#a6c0a0"/>
<rect x="2511" y="559" width="7" height="7" fill="#7fa374"/>
<rect x="2511" y="566" width="7" height="7" fill="#a6c0a0"/>
<rect x="2511" y="573" width="7" height="7" fill="#4a8450"/>
<rect x="2511" y="580" width="7" height="7" fill="#7fa374"/>
<rect x="2511" y="587" width="7" height="7" fill="#4a8450"/>
<rect x="2511" y="594" width="7" height="7" fill="#6a956a"/>
<rect x="2511" y="601" width="7" height="7" fill="#6a956a"/>
<rect x="2511" y="615" width="7" height="7" fill="#8fb088"/>
<rect x="2518" y="496" width="7" height="7" fill="#6a956a"/>
<rect x="2518" y="503" width="7" height="7" fill="#4a8450"/>
<rect x="2518" y="517" width="7" height="7" fill="#6a956a"/>
<rect x="2518" y="545" width="7" height="7" fill="#2f6e3c"/>
<rect x="2518" y="559" width="7" height="7" fill="#7fa374"/>
<rect x="2518" y="566" width="7" height="7" fill="#1f6334"/>
<rect x="2518" y="573" width="7" height="7" fill="#6a956a"/>
<rect x="2518" y="580" width="7" height="7" fill="#6a956a"/>
<rect x="2518" y="594" width="7" height="7" fill="#2f6e3c"/>
<rect x="2518" y="608" width="7" height="7" fill="#5e8f63"/>
<rect x="2518" y="615" width="7" height="7" fill="#3c7a45"/>
<rect x="2518" y="622" width="7" height="7" fill="#4a8450"/>
<rect x="2525" y="489" width="7" height="7" fill="#7fa374"/>
<rect x="2525" y="496" width="7" height="7" fill="#1f6334"/>
<rect x="2525" y="503" width="7" height="7" fill="#5e8f63"/>
<rect x="2525" y="510" width="7" height="7" fill="#a6c0a0"/>
<rect x="2525" y="517" width="7" height="7" fill="#1f6334"/>
<rect x="2525" y="524" width="7" height="7" fill="#1f6334"/>
<rect x="2525" y="531" width="7" height="7" fill="#8fb088"/>
<rect x="2525" y="538" width="7" height="7" fill="#5e8f63"/>
<rect x="2525" y="545" width="7" height="7" fill="#3c7a45"/>
<rect x="2525" y="552" width="7" height="7" fill="#7fa374"/>
<rect x="2525" y="559" width="7" height="7" fill="#5e8f63"/>
<rect x="2525" y="573" width="7" height="7" fill="#8fb088"/>
<rect x="2525" y="580" width="7" height="7" fill="#6a956a"/>
<rect x="2525" y="594" width="7" height="7" fill="#7fa374"/>
<rect x="2525" y="601" width="7" height="7" fill="#8fb088"/>
<rect x="2525" y="608" width="7" height="7" fill="#6a956a"/>
<rect x="2525" y="615" width="7" height="7" fill="#6a956a"/>
<rect x="2525" y="622" width="7" height="7" fill="#1f6334"/>
</g></g>
<polygon points="2505.0,662.0 2735.0,738.0 2735.0,891.0 2505.0,815.0" fill="url(#g8)" />
<polygon points="2735.0,738.0 2818.0,695.0 2818.0,848.0 2735.0,891.0" fill="#b3b6a0" />
<polygon points="2505.0,662.0 2588.0,619.0 2818.0,695.0 2735.0,738.0" fill="#f8f8f4" />
<polygon points="2556.0,640.0 2580.0,622.0 2614.0,630.0 2612.0,648.0 2590.0,658.0 2566.0,655.0" fill="#c7e3ee" />
<polygon points="2574.0,650.0 2600.0,636.0 2610.0,645.0 2590.0,658.0" fill="#a9c9d6" />
<polyline points="2576.0,664.0 2674.0,703.0" fill="none" stroke="#1d1d1d" stroke-width="13" />
<polyline points="2674.0,640.0 2731.0,656.0" fill="none" stroke="#6a6a6a" stroke-width="15" />
<polyline points="2790.0,678.0 2832.0,690.0 2836.0,722.0" fill="none" stroke="#5c5c5c" stroke-width="17" stroke-linejoin="round"/>
<g>
<polygon points="2909.3,657.0 2929.2,668.4 2938.6,692.8 2952.6,717.1 2959.7,745.7 2962.0,774.3 2953.8,795.7 2929.2,800.0 2905.8,790.0 2880.1,800.0 2854.4,792.9 2845.0,768.5 2852.0,742.8 2866.1,721.4 2870.7,692.8 2887.1,668.4" fill="#56895a" />
<g clip-path="url(#c2)">
<rect x="2845" y="664" width="7" height="7" fill="#2f6e3c"/>
<rect x="2845" y="678" width="7" height="7" fill="#4a8450"/>
<rect x="2845" y="692" width="7" height="7" fill="#1f6334"/>
<rect x="2845" y="699" width="7" height="7" fill="#2f6e3c"/>
<rect x="2845" y="706" width="7" height="7" fill="#6a956a"/>
<rect x="2845" y="713" width="7" height="7" fill="#5e8f63"/>
<rect x="2845" y="720" width="7" height="7" fill="#8fb088"/>
<rect x="2845" y="727" width="7" height="7" fill="#8fb088"/>
<rect x="2845" y="734" width="7" height="7" fill="#a6c0a0"/>
<rect x="2845" y="741" width="7" height="7" fill="#1f6334"/>
<rect x="2845" y="762" width="7" height="7" fill="#2f6e3c"/>
<rect x="2845" y="769" width="7" height="7" fill="#a6c0a0"/>
<rect x="2845" y="783" width="7" height="7" fill="#3c7a45"/>
<rect x="2845" y="790" width="7" height="7" fill="#5e8f63"/>
<rect x="2852" y="664" width="7" height="7" fill="#3c7a45"/>
<rect x="2852" y="671" width="7" height="7" fill="#7fa374"/>
<rect x="2852" y="678" width="7" height="7" fill="#3c7a45"/>
<rect x="2852" y="699" width="7" height="7" fill="#a6c0a0"/>
<rect x="2852" y="706" width="7" height="7" fill="#2f6e3c"/>
<rect x="2852" y="713" width="7" height="7" fill="#7fa374"/>
<rect x="2852" y="720" width="7" height="7" fill="#2f6e3c"/>
<rect x="2852" y="727" width="7" height="7" fill="#1f6334"/>
<rect x="2852" y="741" width="7" height="7" fill="#5e8f63"/>
<rect x="2852" y="748" width="7" height="7" fill="#3c7a45"/>
<rect x="2852" y="755" width="7" height="7" fill="#1f6334"/>
<rect x="2852" y="762" width="7" height="7" fill="#8fb088"/>
<rect x="2852" y="769" width="7" height="7" fill="#8fb088"/>
<rect x="2852" y="783" width="7" height="7" fill="#5e8f63"/>
<rect x="2852" y="790" width="7" height="7" fill="#a6c0a0"/>
<rect x="2852" y="797" width="7" height="7" fill="#6a956a"/>
<rect x="2859" y="657" width="7" height="7" fill="#8fb088"/>
<rect x="2859" y="664" width="7" height="7" fill="#8fb088"/>
<rect x="2859" y="671" width="7" height="7" fill="#2f6e3c"/>
<rect x="2859" y="692" width="7" height="7" fill="#2f6e3c"/>
<rect x="2859" y="699" width="7" height="7" fill="#4a8450"/>
<rect x="2859" y="706" width="7" height="7" fill="#8fb088"/>
<rect x="2859" y="713" width="7" height="7" fill="#6a956a"/>
<rect x="2859" y="720" width="7" height="7" fill="#2f6e3c"/>
<rect x="2859" y="727" width="7" height="7" fill="#4a8450"/>
<rect x="2859" y="734" width="7" height="7" fill="#4a8450"/>
<rect x="2859" y="741" width="7" height="7" fill="#1f6334"/>
<rect x="2859" y="755" width="7" height="7" fill="#8fb088"/>
<rect x="2859" y="762" width="7" height="7" fill="#8fb088"/>
<rect x="2859" y="769" width="7" height="7" fill="#8fb088"/>
<rect x="2859" y="776" width="7" height="7" fill="#8fb088"/>
<rect x="2859" y="783" width="7" height="7" fill="#1f6334"/>
<rect x="2859" y="790" width="7" height="7" fill="#a6c0a0"/>
<rect x="2859" y="797" width="7" height="7" fill="#8fb088"/>
<rect x="2866" y="657" width="7" height="7" fill="#2f6e3c"/>
<rect x="2866" y="671" width="7" height="7" fill="#4a8450"/>
<rect x="2866" y="678" width="7" height="7" fill="#2f6e3c"/>
<rect x="2866" y="692" width="7" height="7" fill="#2f6e3c"/>
<rect x="2866" y="706" width="7" height="7" fill="#a6c0a0"/>
<rect x="2866" y="748" width="7" height="7" fill="#7fa374"/>
<rect x="2866" y="755" width="7" height="7" fill="#5e8f63"/>
<rect x="2866" y="769" width="7" height="7" fill="#4a8450"/>
<rect x="2866" y="790" width="7" height="7" fill="#3c7a45"/>
<rect x="2866" y="797" width="7" height="7" fill="#1f6334"/>
<rect x="2873" y="657" width="7" height="7" fill="#4a8450"/>
<rect x="2873" y="671" width="7" height="7" fill="#8fb088"/>
<rect x="2873" y="678" width="7" height="7" fill="#1f6334"/>
<rect x="2873" y="692" width="7" height="7" fill="#2f6e3c"/>
<rect x="2873" y="706" width="7" height="7" fill="#5e8f63"/>
<rect x="2873" y="720" width="7" height="7" fill="#6a956a"/>
<rect x="2873" y="734" width="7" height="7" fill="#4a8450"/>
<rect x="2873" y="741" width="7" height="7" fill="#4a8450"/>
<rect x="2873" y="748" width="7" height="7" fill="#2f6e3c"/>
<rect x="2873" y="755" width="7" height="7" fill="#2f6e3c"/>
<rect x="2873" y="762" width="7" height="7" fill="#3c7a45"/>
<rect x="2873" y="776" width="7" height="7" fill="#1f6334"/>
<rect x="2873" y="783" width="7" height="7" fill="#2f6e3c"/>
<rect x="2873" y="790" width="7" height="7" fill="#6a956a"/>
<rect x="2880" y="657" width="7" height="7" fill="#3c7a45"/>
<rect x="2880" y="664" width="7" height="7" fill="#8fb088"/>
<rect x="2880" y="671" width="7" height="7" fill="#a6c0a0"/>
<rect x="2880" y="685" width="7" height="7" fill="#1f6334"/>
<rect x="2880" y="706" width="7" height="7" fill="#a6c0a0"/>
<rect x="2880" y="713" width="7" height="7" fill="#1f6334"/>
<rect x="2880" y="734" width="7" height="7" fill="#6a956a"/>
<rect x="2880" y="748" width="7" height="7" fill="#3c7a45"/>
<rect x="2880" y="755" width="7" height="7" fill="#4a8450"/>
<rect x="2880" y="769" width="7" height="7" fill="#3c7a45"/>
<rect x="2880" y="776" width="7" height="7" fill="#a6c0a0"/>
<rect x="2880" y="783" width="7" height="7" fill="#6a956a"/>
<rect x="2880" y="790" width="7" height="7" fill="#4a8450"/>
<rect x="2887" y="664" width="7" height="7" fill="#3c7a45"/>
<rect x="2887" y="671" width="7" height="7" fill="#4a8450"/>
<rect x="2887" y="678" width="7" height="7" fill="#a6c0a0"/>
<rect x="2887" y="685" width="7" height="7" fill="#7fa374"/>
<rect x="2887" y="692" width="7" height="7" fill="#8fb088"/>
<rect x="2887" y="713" width="7" height="7" fill="#3c7a45"/>
<rect x="2887" y="727" width="7" height="7" fill="#1f6334"/>
<rect x="2887" y="734" width="7" height="7" fill="#6a956a"/>
<rect x="2887" y="741" width="7" height="7" fill="#1f6334"/>
<rect x="2887" y="748" width="7" height="7" fill="#8fb088"/>
<rect x="2887" y="755" width="7" height="7" fill="#8fb088"/>
<rect x="2887" y="762" width="7" height="7" fill="#8fb088"/>
<rect x="2887" y="769" width="7" height="7" fill="#4a8450"/>
<rect x="2887" y="776" width="7" height="7" fill="#8fb088"/>
<rect x="2887" y="783" width="7" height="7" fill="#8fb088"/>
<rect x="2887" y="790" width="7" height="7" fill="#3c7a45"/>
<rect x="2887" y="797" width="7" height="7" fill="#2f6e3c"/>
<rect x="2894" y="657" width="7" height="7" fill="#a6c0a0"/>
<rect x="2894" y="671" width="7" height="7" fill="#a6c0a0"/>
<rect x="2894" y="685" width="7" height="7" fill="#1f6334"/>
<rect x="2894" y="692" width="7" height="7" fill="#2f6e3c"/>
<rect x="2894" y="699" width="7" height="7" fill="#8fb088"/>
<rect x="2894" y="713" width="7" height="7" fill="#7fa374"/>
<rect x="2894" y="720" width="7" height="7" fill="#1f6334"/>
<rect x="2894" y="734" width="7" height="7" fill="#2f6e3c"/>
<rect x="2894" y="741" width="7" height="7" fill="#6a956a"/>
<rect x="2894" y="748" width="7" height="7" fill="#6a956a"/>
<rect x="2894" y="755" width="7" height="7" fill="#2f6e3c"/>
<rect x="2894" y="762" width="7" height="7" fill="#1f6334"/>
<rect x="2894" y="769" width="7" height="7" fill="#8fb088"/>
<rect x="2894" y="790" width="7" height="7" fill="#6a956a"/>
<rect x="2894" y="797" width="7" height="7" fill="#1f6334"/>
<rect x="2901" y="657" width="7" height="7" fill="#2f6e3c"/>
<rect x="2901" y="671" width="7" height="7" fill="#3c7a45"/>
<rect x="2901" y="678" width="7" height="7" fill="#4a8450"/>
<rect x="2901" y="685" width="7" height="7" fill="#7fa374"/>
<rect x="2901" y="692" width="7" height="7" fill="#3c7a45"/>
<rect x="2901" y="699" width="7" height="7" fill="#4a8450"/>
<rect x="2901" y="706" width="7" height="7" fill="#4a8450"/>
<rect x="2901" y="720" width="7" height="7" fill="#4a8450"/>
<rect x="2901" y="734" width="7" height="7" fill="#6a956a"/>
<rect x="2901" y="741" width="7" height="7" fill="#2f6e3c"/>
<rect x="2901" y="762" width="7" height="7" fill="#8fb088"/>
<rect x="2901" y="769" width="7" height="7" fill="#4a8450"/>
<rect x="2901" y="776" width="7" height="7" fill="#2f6e3c"/>
<rect x="2901" y="783" width="7" height="7" fill="#7fa374"/>
<rect x="2901" y="790" width="7" height="7" fill="#3c7a45"/>
<rect x="2901" y="797" width="7" height="7" fill="#6a956a"/>
<rect x="2908" y="657" width="7" height="7" fill="#7fa374"/>
<rect x="2908" y="664" width="7" height="7" fill="#2f6e3c"/>
<rect x="2908" y="671" width="7" height="7" fill="#4a8450"/>
<rect x="2908" y="678" width="7" height="7" fill="#6a956a"/>
<rect x="2908" y="692" width="7" height="7" fill="#6a956a"/>
<rect x="2908" y="699" width="7" height="7" fill="#5e8f63"/>
<rect x="2908" y="706" width="7" height="7" fill="#3c7a45"/>
<rect x="2908" y="713" width="7" height="7" fill="#a6c0a0"/>
<rect x="2908" y="741" width="7" height="7" fill="#2f6e3c"/>
<rect x="2908" y="755" width="7" height="7" fill="#2f6e3c"/>
<rect x="2908" y="762" width="7" height="7" fill="#4a8450"/>
<rect x="2908" y="769" width="7" height="7" fill="#7fa374"/>
<rect x="2908" y="776" width="7" height="7" fill="#8fb088"/>
<rect x="2908" y="783" width="7" height="7" fill="#8fb088"/>
<rect x="2908" y="797" width="7" height="7" fill="#8fb088"/>
<rect x="2915" y="657" width="7" height="7" fill="#5e8f63"/>
<rect x="2915" y="664" width="7" height="7" fill="#6a956a"/>
<rect x="2915" y="671" width="7" height="7" fill="#8fb088"/>
<rect x="2915" y="692" width="7" height="7" fill="#5e8f63"/>
<rect x="2915" y="706" width="7" height="7" fill="#6a956a"/>
<rect x="2915" y="713" width="7" height="7" fill="#a6c0a0"/>
<rect x="2915" y="720" width="7" height="7" fill="#1f6334"/>
<rect x="2915" y="727" width="7" height="7" fill="#1f6334"/>
<rect x="2915" y="734" width="7" height="7" fill="#4a8450"/>
<rect x="2915" y="741" width="7" height="7" fill="#6a956a"/>
<rect x="2915" y="748" width="7" height="7" fill="#a6c0a0"/>
<rect x="2915" y="755" width="7" height="7" fill="#2f6e3c"/>
<rect x="2915" y="762" width="7" height="7" fill="#a6c0a0"/>
<rect x="2915" y="769" width="7" height="7" fill="#a6c0a0"/>
<rect x="2915" y="790" width="7" height="7" fill="#7fa374"/>
<rect x="2922" y="657" width="7" height="7" fill="#3c7a45"/>
<rect x="2922" y="664" width="7" height="7" fill="#4a8450"/>
<rect x="2922" y="671" width="7" height="7" fill="#a6c0a0"/>
<rect x="2922" y="678" width="7" height="7" fill="#2f6e3c"/>
<rect x="2922" y="685" width="7" height="7" fill="#7fa374"/>
<rect x="2922" y="692" width="7" height="7" fill="#6a956a"/>
<rect x="2922" y="706" width="7" height="7" fill="#2f6e3c"/>
<rect x="2922" y="727" width="7" height="7" fill="#7fa374"/>
<rect x="2922" y="734" width="7" height="7" fill="#3c7a45"/>
<rect x="2922" y="762" width="7" height="7" fill="#a6c0a0"/>
<rect x="2922" y="769" width="7" height="7" fill="#7fa374"/>
<rect x="2922" y="776" width="7" height="7" fill="#8fb088"/>
<rect x="2922" y="783" width="7" height="7" fill="#6a956a"/>
<rect x="2922" y="790" width="7" height="7" fill="#1f6334"/>
<rect x="2922" y="797" width="7" height="7" fill="#1f6334"/>
<rect x="2929" y="664" width="7" height="7" fill="#1f6334"/>
<rect x="2929" y="671" width="7" height="7" fill="#a6c0a0"/>
<rect x="2929" y="678" width="7" height="7" fill="#1f6334"/>
<rect x="2929" y="685" width="7" height="7" fill="#8fb088"/>
<rect x="2929" y="692" width="7" height="7" fill="#2f6e3c"/>
<rect x="2929" y="699" width="7" height="7" fill="#4a8450"/>
<rect x="2929" y="706" width="7" height="7" fill="#1f6334"/>
<rect x="2929" y="713" width="7" height="7" fill="#4a8450"/>
<rect x="2929" y="720" width="7" height="7" fill="#1f6334"/>
<rect x="2929" y="727" width="7" height="7" fill="#5e8f63"/>
<rect x="2929" y="734" width="7" height="7" fill="#6a956a"/>
<rect x="2929" y="748" width="7" height="7" fill="#5e8f63"/>
<rect x="2929" y="755" width="7" height="7" fill="#3c7a45"/>
<rect x="2929" y="762" width="7" height="7" fill="#5e8f63"/>
<rect x="2929" y="769" width="7" height="7" fill="#4a8450"/>
<rect x="2929" y="783" width="7" height="7" fill="#4a8450"/>
<rect x="2929" y="797" width="7" height="7" fill="#6a956a"/>
<rect x="2936" y="657" width="7" height="7" fill="#3c7a45"/>
<rect x="2936" y="664" width="7" height="7" fill="#7fa374"/>
<rect x="2936" y="671" width="7" height="7" fill="#2f6e3c"/>
<rect x="2936" y="678" width="7" height="7" fill="#5e8f63"/>
<rect x="2936" y="685" width="7" height="7" fill="#6a956a"/>
<rect x="2936" y="706" width="7" height="7" fill="#1f6334"/>
<rect x="2936" y="713" width="7" height="7" fill="#4a8450"/>
<rect x="2936" y="720" width="7" height="7" fill="#6a956a"/>
<rect x="2936" y="734" width="7" height="7" fill="#8fb088"/>
<rect x="2936" y="741" width="7" height="7" fill="#2f6e3c"/>
<rect x="2936" y="748" width="7" height="7" fill="#2f6e3c"/>
<rect x="2936" y="755" width="7" height="7" fill="#1f6334"/>
<rect x="2936" y="762" width="7" height="7" fill="#6a956a"/>
<rect x="2936" y="769" width="7" height="7" fill="#4a8450"/>
<rect x="2936" y="776" width="7" height="7" fill="#7fa374"/>
<rect x="2936" y="783" width="7" height="7" fill="#a6c0a0"/>
<rect x="2936" y="790" width="7" height="7" fill="#2f6e3c"/>
<rect x="2943" y="657" width="7" height="7" fill="#7fa374"/>
<rect x="2943" y="664" width="7" height="7" fill="#3c7a45"/>
<rect x="2943" y="671" width="7" height="7" fill="#1f6334"/>
<rect x="2943" y="678" width="7" height="7" fill="#1f6334"/>
<rect x="2943" y="692" width="7" height="7" fill="#5e8f63"/>
<rect x="2943" y="706" width="7" height="7" fill="#a6c0a0"/>
<rect x="2943" y="713" width="7" height="7" fill="#5e8f63"/>
<rect x="2943" y="727" width="7" height="7" fill="#2f6e3c"/>
<rect x="2943" y="734" width="7" height="7" fill="#5e8f63"/>
<rect x="2943" y="741" width="7" height="7" fill="#7fa374"/>
<rect x="2943" y="748" width="7" height="7" fill="#2f6e3c"/>
<rect x="2943" y="762" width="7" height="7" fill="#5e8f63"/>
<rect x="2943" y="769" width="7" height="7" fill="#8fb088"/>
<rect x="2943" y="776" width="7" height="7" fill="#8fb088"/>
<rect x="2943" y="783" width="7" height="7" fill="#5e8f63"/>
<rect x="2943" y="790" width="7" height="7" fill="#4a8450"/>
<rect x="2950" y="657" width="7" height="7" fill="#1f6334"/>
<rect x="2950" y="664" width="7" height="7" fill="#2f6e3c"/>
<rect x="2950" y="685" width="7" height="7" fill="#5e8f63"/>
<rect x="2950" y="692" width="7" height="7" fill="#4a8450"/>
<rect x="2950" y="706" width="7" height="7" fill="#a6c0a0"/>
<rect x="2950" y="713" width="7" height="7" fill="#3c7a45"/>
<rect x="2950" y="720" width="7" height="7" fill="#2f6e3c"/>
<rect x="2950" y="727" width="7" height="7" fill="#1f6334"/>
<rect x="2950" y="741" width="7" height="7" fill="#5e8f63"/>
<rect x="2950" y="748" width="7" height="7" fill="#5e8f63"/>
<rect x="2950" y="762" width="7" height="7" fill="#8fb088"/>
<rect x="2950" y="769" width="7" height="7" fill="#5e8f63"/>
<rect x="2950" y="776" width="7" height="7" fill="#1f6334"/>
<rect x="2950" y="797" width="7" height="7" fill="#7fa374"/>
<rect x="2957" y="664" width="7" height="7" fill="#4a8450"/>
<rect x="2957" y="671" width="7" height="7" fill="#8fb088"/>
<rect x="2957" y="678" width="7" height="7" fill="#5e8f63"/>
<rect x="2957" y="685" width="7" height="7" fill="#5e8f63"/>
<rect x="2957" y="692" width="7" height="7" fill="#2f6e3c"/>
<rect x="2957" y="699" width="7" height="7" fill="#8fb088"/>
<rect x="2957" y="706" width="7" height="7" fill="#1f6334"/>
<rect x="2957" y="720" width="7" height="7" fill="#3c7a45"/>
<rect x="2957" y="727" width="7" height="7" fill="#7fa374"/>
<rect x="2957" y="734" width="7" height="7" fill="#2f6e3c"/>
<rect x="2957" y="741" width="7" height="7" fill="#7fa374"/>
<rect x="2957" y="748" width="7" height="7" fill="#7fa374"/>
<rect x="2957" y="762" width="7" height="7" fill="#7fa374"/>
<rect x="2957" y="769" width="7" height="7" fill="#2f6e3c"/>
<rect x="2957" y="776" width="7" height="7" fill="#2f6e3c"/>
<rect x="2957" y="783" width="7" height="7" fill="#6a956a"/>
<rect x="2957" y="790" width="7" height="7" fill="#5e8f63"/>
</g></g>
<polyline points="2398.0,999.0 2398.0,1031.0" fill="none" stroke="#b4b4b4" stroke-width="8" />
<polygon points="2227.0,872.0 2411.0,930.0 2404.0,997.0 2373.0,1002.0 2208.0,932.0" fill="#242525" />
<polygon points="2397.0,939.0 2411.0,930.0 2404.0,997.0 2391.0,999.0" fill="#0c0808" />
<polyline points="2263.0,1047.0 2263.0,1109.0" fill="none" stroke="#c9c9c4" stroke-width="9" />
<polyline points="2360.0,989.0 2360.0,1051.0" fill="none" stroke="#c9c9c4" stroke-width="9" />
<polygon points="2025.0,969.0 2257.0,1044.0 2257.0,1079.0 2025.0,1004.0" fill="#e3e4d9" />
<polygon points="2257.0,1044.0 2366.0,983.0 2366.0,1018.0 2257.0,1079.0" fill="#b2b49e" />
<polygon points="2025.0,969.0 2133.0,913.0 2366.0,983.0 2257.0,1044.0" fill="url(#g9)" />
<polyline points="2003.0,1065.0 2003.0,1112.0" fill="none" stroke="#b9b9b9" stroke-width="8" />
<polyline points="2071.0,1093.0 2071.0,1141.0" fill="none" stroke="#b9b9b9" stroke-width="8" />
<polyline points="2101.0,1100.0 2101.0,1141.0" fill="none" stroke="#b9b9b9" stroke-width="8" />
<polyline points="2221.0,1102.0 2221.0,1127.0" fill="none" stroke="#b9b9b9" stroke-width="8" />
<polygon points="1976.0,997.0 2222.0,1091.0 2222.0,1102.0 2173.0,1128.0 1998.0,1065.0" fill="#252626" />
<polyline points="2055.0,1029.0 2077.0,1097.0" fill="none" stroke="#0b0707" stroke-width="9" />
<polyline points="2153.0,1066.0 2175.0,1127.0" fill="none" stroke="#0b0707" stroke-width="9" />
<polygon points="2175.0,1089.0 2222.0,1102.0 2173.0,1128.0" fill="#303131" />
<polyline points="1641.0,1369.0 1641.0,1401.0" fill="none" stroke="#b4b4b4" stroke-width="8" />
<polygon points="1470.0,1242.0 1654.0,1300.0 1647.0,1367.0 1616.0,1372.0 1451.0,1302.0" fill="#242525" />
<polygon points="1640.0,1309.0 1654.0,1300.0 1647.0,1367.0 1634.0,1369.0" fill="#0c0808" />
<polyline points="1506.0,1417.0 1506.0,1479.0" fill="none" stroke="#c9c9c4" stroke-width="9" />
<polyline points="1603.0,1359.0 1603.0,1421.0" fill="none" stroke="#c9c9c4" stroke-width="9" />
<polygon points="1268.0,1339.0 1500.0,1414.0 1500.0,1449.0 1268.0,1374.0" fill="#e3e4d9" />
<polygon points="1500.0,1414.0 1609.0,1353.0 1609.0,1388.0 1500.0,1449.0" fill="#b2b49e" />
<polygon points="1268.0,1339.0 1376.0,1283.0 1609.0,1353.0 1500.0,1414.0" fill="url(#g10)" />
<polyline points="1246.0,1435.0 1246.0,1482.0" fill="none" stroke="#b9b9b9" stroke-width="8" />
<polyline points="1314.0,1463.0 1314.0,1511.0" fill="none" stroke="#b9b9b9" stroke-width="8" />
<polyline points="1344.0,1470.0 1344.0,1511.0" fill="none" stroke="#b9b9b9" stroke-width="8" />
<polyline points="1464.0,1472.0 1464.0,1497.0" fill="none" stroke="#b9b9b9" stroke-width="8" />
<polygon points="1219.0,1367.0 1465.0,1461.0 1465.0,1472.0 1416.0,1498.0 1241.0,1435.0" fill="#252626" />
<polyline points="1298.0,1399.0 1320.0,1467.0" fill="none" stroke="#0b0707" stroke-width="9" />
<polyline points="1396.0,1436.0 1418.0,1497.0" fill="none" stroke="#0b0707" stroke-width="9" />
<polygon points="1418.0,1459.0 1465.0,1472.0 1416.0,1498.0" fill="#303131" />
<g>
<rect x="1128" y="1368" width="20" height="24" fill="#8a1d1d"/>
<polygon points="1134.7,1245.0 1155.6,1255.6 1165.4,1278.2 1180.2,1300.9 1187.5,1327.5 1190.0,1354.1 1181.4,1374.0 1155.6,1378.0 1131.0,1368.7 1103.9,1378.0 1076.8,1371.3 1067.0,1348.7 1074.4,1324.8 1089.1,1304.8 1094.1,1278.2 1111.3,1255.6" fill="#56895a" />
<g clip-path="url(#c3)">
<rect x="1067" y="1245" width="7" height="7" fill="#4a8450"/>
<rect x="1067" y="1252" width="7" height="7" fill="#8fb088"/>
<rect x="1067" y="1259" width="7" height="7" fill="#2f6e3c"/>
<rect x="1067" y="1266" width="7" height="7" fill="#3c7a45"/>
<rect x="1067" y="1280" width="7" height="7" fill="#1f6334"/>
<rect x="1067" y="1287" width="7" height="7" fill="#7fa374"/>
<rect x="1067" y="1294" width="7" height="7" fill="#8fb088"/>
<rect x="1067" y="1301" width="7" height="7" fill="#6a956a"/>
<rect x="1067" y="1308" width="7" height="7" fill="#2f6e3c"/>
<rect x="1067" y="1315" width="7" height="7" fill="#1f6334"/>
<rect x="1067" y="1322" width="7" height="7" fill="#6a956a"/>
<rect x="1067" y="1343" width="7" height="7" fill="#a6c0a0"/>
<rect x="1067" y="1357" width="7" height="7" fill="#2f6e3c"/>
<rect x="1067" y="1371" width="7" height="7" fill="#5e8f63"/>
<rect x="1074" y="1245" width="7" height="7" fill="#2f6e3c"/>
<rect x="1074" y="1252" width="7" height="7" fill="#8fb088"/>
<rect x="1074" y="1273" width="7" height="7" fill="#1f6334"/>
<rect x="1074" y="1280" width="7" height="7" fill="#2f6e3c"/>
<rect x="1074" y="1287" width="7" height="7" fill="#1f6334"/>
<rect x="1074" y="1308" width="7" height="7" fill="#a6c0a0"/>
<rect x="1074" y="1315" width="7" height="7" fill="#7fa374"/>
<rect x="1074" y="1329" width="7" height="7" fill="#5e8f63"/>
<rect x="1074" y="1336" width="7" height="7" fill="#7fa374"/>
<rect x="1074" y="1343" width="7" height="7" fill="#8fb088"/>
<rect x="1074" y="1357" width="7" height="7" fill="#7fa374"/>
<rect x="1074" y="1364" width="7" height="7" fill="#3c7a45"/>
<rect x="1074" y="1371" width="7" height="7" fill="#5e8f63"/>
<rect x="1081" y="1245" width="7" height="7" fill="#6a956a"/>
<rect x="1081" y="1252" width="7" height="7" fill="#4a8450"/>
<rect x="1081" y="1273" width="7" height="7" fill="#2f6e3c"/>
<rect x="1081" y="1280" width="7" height="7" fill="#1f6334"/>
<rect x="1081" y="1287" width="7" height="7" fill="#5e8f63"/>
<rect x="1081" y="1294" width="7" height="7" fill="#4a8450"/>
<rect x="1081" y="1308" width="7" height="7" fill="#a6c0a0"/>
<rect x="1081" y="1315" width="7" height="7" fill="#2f6e3c"/>
<rect x="1081" y="1322" width="7" height="7" fill="#6a956a"/>
<rect x="1081" y="1329" width="7" height="7" fill="#a6c0a0"/>
<rect x="1081" y="1336" width="7" height="7" fill="#6a956a"/>
<rect x="1081" y="1343" width="7" height="7" fill="#a6c0a0"/>
<rect x="1081" y="1350" width="7" height="7" fill="#1f6334"/>
<rect x="1081" y="1357" width="7" height="7" fill="#7fa374"/>
<rect x="1081" y="1364" width="7" height="7" fill="#8fb088"/>
<rect x="1081" y="1371" width="7" height="7" fill="#1f6334"/>
<rect x="1081" y="1378" width="7" height="7" fill="#7fa374"/>
<rect x="1088" y="1266" width="7" height="7" fill="#6a956a"/>
<rect x="1088" y="1273" width="7" height="7" fill="#6a956a"/>
<rect x="1088" y="1287" width="7" height="7" fill="#3c7a45"/>
<rect x="1088" y="1294" width="7" height="7" fill="#3c7a45"/>
<rect x="1088" y="1301" width="7" height="7" fill="#7fa374"/>
<rect x="1088" y="1329" width="7" height="7" fill="#8fb088"/>
<rect x="1088" y="1336" width="7" height="7" fill="#3c7a45"/>
<rect x="1088" y="1343" width="7" height="7" fill="#4a8450"/>
<rect x="1088" y="1350" width="7" height="7" fill="#2f6e3c"/>
<rect x="1088" y="1357" width="7" height="7" fill="#4a8450"/>
<rect x="1088" y="1364" width="7" height="7" fill="#5e8f63"/>
<rect x="1088" y="1378" width="7" height="7" fill="#2f6e3c"/>
<rect x="1095" y="1245" width="7" height="7" fill="#4a8450"/>
<rect x="1095" y="1252" width="7" height="7" fill="#8fb088"/>
<rect x="1095" y="1266" width="7" height="7" fill="#4a8450"/>
<rect x="1095" y="1280" width="7" height="7" fill="#8fb088"/>
<rect x="1095" y="1287" width="7" height="7" fill="#3c7a45"/>
<rect x="1095" y="1294" width="7" height="7" fill="#6a956a"/>
<rect x="1095" y="1301" width="7" height="7" fill="#3c7a45"/>
<rect x="1095" y="1315" width="7" height="7" fill="#4a8450"/>
<rect x="1095" y="1329" width="7" height="7" fill="#1f6334"/>
<rect x="1095" y="1343" width="7" height="7" fill="#2f6e3c"/>
<rect x="1095" y="1350" width="7" height="7" fill="#4a8450"/>
<rect x="1095" y="1357" width="7" height="7" fill="#7fa374"/>
<rect x="1095" y="1371" width="7" height="7" fill="#2f6e3c"/>
<rect x="1095" y="1378" width="7" height="7" fill="#a6c0a0"/>
<rect x="1102" y="1252" width="7" height="7" fill="#1f6334"/>
<rect x="1102" y="1259" width="7" height="7" fill="#7fa374"/>
<rect x="1102" y="1280" width="7" height="7" fill="#6a956a"/>
<rect x="1102" y="1287" width="7" height="7" fill="#a6c0a0"/>
<rect x="1102" y="1294" width="7" height="7" fill="#a6c0a0"/>
<rect x="1102" y="1301" width="7" height="7" fill="#6a956a"/>
<rect x="1102" y="1308" width="7" height="7" fill="#4a8450"/>
<rect x="1102" y="1322" width="7" height="7" fill="#7fa374"/>
<rect x="1102" y="1329" width="7" height="7" fill="#3c7a45"/>
<rect x="1102" y="1343" width="7" height="7" fill="#2f6e3c"/>
<rect x="1102" y="1350" width="7" height="7" fill="#4a8450"/>
<rect x="1102" y="1357" width="7" height="7" fill="#2f6e3c"/>
<rect x="1102" y="1364" width="7" height="7" fill="#4a8450"/>
<rect x="1102" y="1371" width="7" height="7" fill="#6a956a"/>
<rect x="1102" y="1378" width="7" height="7" fill="#3c7a45"/>
<rect x="1109" y="1245" width="7" height="7" fill="#4a8450"/>
<rect x="1109" y="1259" width="7" height="7" fill="#8fb088"/>
<rect x="1109" y="1280" width="7" height="7" fill="#7fa374"/>
<rect x="1109" y="1287" width="7" height="7" fill="#3c7a45"/>
<rect x="1109" y="1301" width="7" height="7" fill="#a6c0a0"/>
<rect x="1109" y="1308" width="7" height="7" fill="#8fb088"/>
<rect x="1109" y="1322" width="7" height="7" fill="#4a8450"/>
<rect x="1109" y="1329" width="7" height="7" fill="#1f6334"/>
<rect x="1109" y="1343" width="7" height="7" fill="#a6c0a0"/>
<rect x="1109" y="1350" width="7" height="7" fill="#8fb088"/>
<rect x="1109" y="1357" width="7" height="7" fill="#4a8450"/>
<rect x="1109" y="1364" width="7" height="7" fill="#4a8450"/>
<rect x="1109" y="1371" width="7" height="7" fill="#a6c0a0"/>
<rect x="1109" y="1378" width="7" height="7" fill="#1f6334"/>
<rect x="1116" y="1245" width="7" height="7" fill="#1f6334"/>
<rect x="1116" y="1252" width="7" height="7" fill="#a6c0a0"/>
<rect x="1116" y="1259" width="7" height="7" fill="#3c7a45"/>
<rect x="1116" y="1266" width="7" height="7" fill="#6a956a"/>
<rect x="1116" y="1273" width="7" height="7" fill="#1f6334"/>
<rect x="1116" y="1287" width="7" height="7" fill="#6a956a"/>
<rect x="1116" y="1301" width="7" height="7" fill="#6a956a"/>
<rect x="1116" y="1308" width="7" height="7" fill="#2f6e3c"/>
<rect x="1116" y="1315" width="7" height="7" fill="#8fb088"/>
<rect x="1116" y="1329" width="7" height="7" fill="#1f6334"/>
<rect x="1116" y="1336" width="7" height="7" fill="#7fa374"/>
<rect x="1116" y="1350" width="7" height="7" fill="#a6c0a0"/>
<rect x="1116" y="1357" width="7" height="7" fill="#7fa374"/>
<rect x="1116" y="1364" width="7" height="7" fill="#4a8450"/>
<rect x="1116" y="1378" width="7" height="7" fill="#3c7a45"/>
<rect x="1123" y="1245" width="7" height="7" fill="#5e8f63"/>
<rect x="1123" y="1266" width="7" height="7" fill="#8fb088"/>
<rect x="1123" y="1273" width="7" height="7" fill="#a6c0a0"/>
<rect x="1123" y="1280" width="7" height="7" fill="#3c7a45"/>
<rect x="1123" y="1287" width="7" height="7" fill="#1f6334"/>
<rect x="1123" y="1294" width="7" height="7" fill="#7fa374"/>
<rect x="1123" y="1301" width="7" height="7" fill="#5e8f63"/>
<rect x="1123" y="1308" width="7" height="7" fill="#a6c0a0"/>
<rect x="1123" y="1329" width="7" height="7" fill="#7fa374"/>
<rect x="1123" y="1336" width="7" height="7" fill="#2f6e3c"/>
<rect x="1123" y="1343" width="7" height="7" fill="#6a956a"/>
<rect x="1123" y="1350" width="7" height="7" fill="#a6c0a0"/>
<rect x="1123" y="1357" width="7" height="7" fill="#a6c0a0"/>
<rect x="1123" y="1364" width="7" height="7" fill="#4a8450"/>
<rect x="1123" y="1378" width="7" height="7" fill="#7fa374"/>
<rect x="1130" y="1245" width="7" height="7" fill="#2f6e3c"/>
<rect x="1130" y="1252" width="7" height="7" fill="#2f6e3c"/>
<rect x="1130" y="1259" width="7" height="7" fill="#6a956a"/>
<rect x="1130" y="1273" width="7" height="7" fill="#a6c0a0"/>
<rect x="1130" y="1280" width="7" height="7" fill="#7fa374"/>
<rect x="1130" y="1287" width="7" height="7" fill="#4a8450"/>
<rect x="1130" y="1294" width="7" height="7" fill="#6a956a"/>
<rect x="1130" y="1301" width="7" height="7" fill="#6a956a"/>
<rect x="1130" y="1308" width="7" height="7" fill="#5e8f63"/>
<rect x="1130" y="1315" width="7" height="7" fill="#8fb088"/>
<rect x="1130" y="1322" width="7" height="7" fill="#6a956a"/>
<rect x="1130" y="1329" width="7" height="7" fill="#5e8f63"/>
<rect x="1130" y="1336" width="7" height="7" fill="#1f6334"/>
<rect x="1130" y="1343" width="7" height="7" fill="#a6c0a0"/>
<rect x="1130" y="1350" width="7" height="7" fill="#5e8f63"/>
<rect x="1130" y="1371" width="7" height="7" fill="#8fb088"/>
<rect x="1130" y="1378" width="7" height="7" fill="#3c7a45"/>
<rect x="1137" y="1245" width="7" height="7" fill="#6a956a"/>
<rect x="1137" y="1259" width="7" height="7" fill="#3c7a45"/>
<rect x="1137" y="1273" width="7" height="7" fill="#5e8f63"/>
<rect x="1137" y="1287" width="7" height="7" fill="#2f6e3c"/>
<rect x="1137" y="1294" width="7" height="7" fill="#3c7a45"/>
<rect x="1137" y="1301" width="7" height="7" fill="#8fb088"/>
<rect x="1137" y="1315" width="7" height="7" fill="#2f6e3c"/>
<rect x="1137" y="1336" width="7" height="7" fill="#7fa374"/>
<rect x="1137" y="1343" width="7" height="7" fill="#3c7a45"/>
<rect x="1137" y="1350" width="7" height="7" fill="#a6c0a0"/>
<rect x="1137" y="1357" width="7" height="7" fill="#7fa374"/>
<rect x="1137" y="1364" width="7" height="7" fill="#7fa374"/>
<rect x="1137" y="1378" width="7" height="7" fill="#3c7a45"/>
<rect x="1144" y="1252" width="7" height="7" fill="#6a956a"/>
<rect x="1144" y="1266" width="7" height="7" fill="#1f6334"/>
<rect x="1144" y="1273" width="7" height="7" fill="#1f6334"/>
<rect x="1144" y="1287" width="7" height="7" fill="#2f6e3c"/>
<rect x="1144" y="1294" width="7" height="7" fill="#4a8450"/>
<rect x="1144" y="1301" width="7" height="7" fill="#2f6e3c"/>
<rect x="1144" y="1308" width="7" height="7" fill="#5e8f63"/>
<rect x="1144" y="1315" width="7" height="7" fill="#3c7a45"/>
<rect x="1144" y="1329" width="7" height="7" fill="#4a8450"/>
<rect x="1144" y="1336" width="7" height="7" fill="#2f6e3c"/>
<rect x="1144" y="1343" width="7" height="7" fill="#7fa374"/>
<rect x="1144" y="1350" width="7" height="7" fill="#4a8450"/>
<rect x="1144" y="1357" width="7" height="7" fill="#3c7a45"/>
<rect x="1144" y="1364" width="7" height="7" fill="#8fb088"/>
<rect x="1144" y="1378" width="7" height="7" fill="#4a8450"/>
<rect x="1151" y="1245" width="7" height="7" fill="#3c7a45"/>
<rect x="1151" y="1266" width="7" height="7" fill="#3c7a45"/>
<rect x="1151" y="1273" width="7" height="7" fill="#2f6e3c"/>
<rect x="1151" y="1280" width="7" height="7" fill="#8fb088"/>
<rect x="1151" y="1287" width="7" height="7" fill="#7fa374"/>
<rect x="1151" y="1301" width="7" height="7" fill="#7fa374"/>
<rect x="1151" y="1315" width="7" height="7" fill="#5e8f63"/>
<rect x="1151" y="1329" width="7" height="7" fill="#1f6334"/>
<rect x="1151" y="1343" width="7" height="7" fill="#2f6e3c"/>
<rect x="1151" y="1350" width="7" height="7" fill="#2f6e3c"/>
<rect x="1151" y="1364" width="7" height="7" fill="#3c7a45"/>
<rect x="1151" y="1371" width="7" height="7" fill="#1f6334"/>
<rect x="1158" y="1245" width="7" height="7" fill="#a6c0a0"/>
<rect x="1158" y="1252" width="7" height="7" fill="#6a956a"/>
<rect x="1158" y="1259" width="7" height="7" fill="#a6c0a0"/>
<rect x="1158" y="1266" width="7" height="7" fill="#7fa374"/>
<rect x="1158" y="1273" width="7" height="7" fill="#3c7a45"/>
<rect x="1158" y="1280" width="7" height="7" fill="#7fa374"/>
<rect x="1158" y="1287" width="7" height="7" fill="#4a8450"/>
<rect x="1158" y="1294" width="7" height="7" fill="#a6c0a0"/>
<rect x="1158" y="1315" width="7" height="7" fill="#1f6334"/>
<rect x="1158" y="1322" width="7" height="7" fill="#6a956a"/>
<rect x="1158" y="1343" width="7" height="7" fill="#7fa374"/>
<rect x="1158" y="1350" width="7" height="7" fill="#1f6334"/>
<rect x="1158" y="1357" width="7" height="7" fill="#8fb088"/>
<rect x="1158" y="1364" width="7" height="7" fill="#4a8450"/>
<rect x="1158" y="1371" width="7" height="7" fill="#8fb088"/>
<rect x="1165" y="1245" width="7" height="7" fill="#2f6e3c"/>
<rect x="1165" y="1252" width="7" height="7" fill="#1f6334"/>
<rect x="1165" y="1259" width="7" height="7" fill="#2f6e3c"/>
<rect x="1165" y="1266" width="7" height="7" fill="#7fa374"/>
<rect x="1165" y="1287" width="7" height="7" fill="#1f6334"/>
<rect x="1165" y="1308" width="7" height="7" fill="#a6c0a0"/>
<rect x="1165" y="1315" width="7" height="7" fill="#3c7a45"/>
<rect x="1165" y="1322" width="7" height="7" fill="#a6c0a0"/>
<rect x="1165" y="1336" width="7" height="7" fill="#8fb088"/>
<rect x="1165" y="1343" width="7" height="7" fill="#2f6e3c"/>
<rect x="1165" y="1350" width="7" height="7" fill="#a6c0a0"/>
<rect x="1165" y="1371" width="7" height="7" fill="#2f6e3c"/>
<rect x="1172" y="1245" width="7" height="7" fill="#3c7a45"/>
<rect x="1172" y="1252" width="7" height="7" fill="#6a956a"/>
<rect x="1172" y="1266" width="7" height="7" fill="#5e8f63"/>
<rect x="1172" y="1287" width="7" height="7" fill="#a6c0a0"/>
<rect x="1172" y="1294" width="7" height="7" fill="#8fb088"/>
<rect x="1172" y="1301" width="7" height="7" fill="#8fb088"/>
<rect x="1172" y="1308" width="7" height="7" fill="#1f6334"/>
<rect x="1172" y="1315" width="7" height="7" fill="#6a956a"/>
<rect x="1172" y="1322" width="7" height="7" fill="#5e8f63"/>
<rect x="1172" y="1336" width="7" height="7" fill="#a6c0a0"/>
<rect x="1172" y="1343" width="7" height="7" fill="#3c7a45"/>
<rect x="1172" y="1350" width="7" height="7" fill="#a6c0a0"/>
<rect x="1172" y="1364" width="7" height="7" fill="#2f6e3c"/>
<rect x="1172" y="1371" width="7" height="7" fill="#5e8f63"/>
<rect x="1172" y="1378" width="7" height="7" fill="#3c7a45"/>
<rect x="1179" y="1245" width="7" height="7" fill="#a6c0a0"/>
<rect x="1179" y="1252" width="7" height="7" fill="#8fb088"/>
<rect x="1179" y="1259" width="7" height="7" fill="#1f6334"/>
<rect x="1179" y="1266" width="7" height="7" fill="#a6c0a0"/>
<rect x="1179" y="1294" width="7" height="7" fill="#2f6e3c"/>
<rect x="1179" y="1301" width="7" height="7" fill="#7fa374"/>
<rect x="1179" y="1308" width="7" height="7" fill="#2f6e3c"/>
<rect x="1179" y="1315" width="7" height="7" fill="#5e8f63"/>
<rect x="1179" y="1322" width="7" height="7" fill="#a6c0a0"/>
<rect x="1179" y="1329" width="7" height="7" fill="#3c7a45"/>
<rect x="1179" y="1343" width="7" height="7" fill="#3c7a45"/>
<rect x="1179" y="1357" width="7" height="7" fill="#6a956a"/>
<rect x="1179" y="1364" width="7" height="7" fill="#3c7a45"/>
<rect x="1179" y="1378" width="7" height="7" fill="#4a8450"/>
<rect x="1186" y="1245" width="7" height="7" fill="#7fa374"/>
<rect x="1186" y="1252" width="7" height="7" fill="#8fb088"/>
<rect x="1186" y="1266" width="7" height="7" fill="#2f6e3c"/>
<rect x="1186" y="1287" width="7" height="7" fill="#5e8f63"/>
<rect x="1186" y="1308" width="7" height="7" fill="#5e8f63"/>
<rect x="1186" y="1322" width="7" height="7" fill="#a6c0a0"/>
<rect x="1186" y="1329" width="7" height="7" fill="#7fa374"/>
<rect x="1186" y="1336" width="7" height="7" fill="#2f6e3c"/>
<rect x="1186" y="1350" width="7" height="7" fill="#1f6334"/>
<rect x="1186" y="1357" width="7" height="7" fill="#a6c0a0"/>
<rect x="1186" y="1371" width="7" height="7" fill="#6a956a"/>
<rect x="1186" y="1378" width="7" height="7" fill="#4a8450"/>
</g></g>
<polygon points="2094.0,1199.3 3127.1,645.0 3127.1,865.0 2094.0,1419.3" fill="url(#g11)" />
<polyline points="2475.5,1031.0 2475.5,1222.0" fill="none" stroke="#9c9c9c" stroke-width="7" />
<polyline points="2671.5,922.0 2671.5,1121.0" fill="none" stroke="#9c9c9c" stroke-width="7" />
<polygon points="2472.0,1031.0 2675.0,920.0 2675.0,1073.0 2472.0,1184.0" fill="#a2a2a2" />
<polygon points="2480.0,1035.0 2668.0,932.0 2668.0,1070.0 2480.0,1173.0" fill="#ffffff" />
<polyline points="2483.0,1055.0 2518.0,1066.0 2545.0,1072.0 2553.0,1048.0 2592.0,1064.0 2619.0,1037.0 2654.0,1040.0" fill="none" stroke="#f6b3ba" stroke-width="13" stroke-linejoin="round"/>
<polyline points="2483.0,1055.0 2518.0,1066.0 2545.0,1072.0 2553.0,1048.0 2592.0,1064.0 2619.0,1037.0 2654.0,1040.0" fill="none" stroke="#dc3a46" stroke-width="5" stroke-linejoin="round"/>
<polyline points="2500.0,1048.0 2520.0,1062.0 2548.0,1078.0 2556.0,1044.0 2590.0,1068.0 2622.0,1030.0 2650.0,1048.0" fill="none" stroke="#6d6d6d" stroke-width="5" stroke-linejoin="round" stroke-dasharray="14 22"/>
<polygon points="2656.0,1187.0 2704.0,1168.0 2718.0,1179.0 2718.0,1202.0 2673.0,1226.0 2656.0,1218.0" fill="url(#g12)" />
<polygon points="2656.0,1146.0 2691.0,1127.0 2702.0,1133.0 2702.0,1168.0 2668.0,1187.0 2656.0,1179.0" fill="url(#g12)" />
<polyline points="2664.0,1183.0 2688.0,1171.0" fill="none" stroke="#b4b8b8" stroke-width="5" />
<polygon points="2743.0,1141.0 2791.0,1122.0 2805.0,1133.0 2805.0,1156.0 2760.0,1180.0 2743.0,1172.0" fill="url(#g13)" />
<polygon points="2743.0,1100.0 2778.0,1081.0 2789.0,1087.0 2789.0,1122.0 2755.0,1141.0 2743.0,1133.0" fill="url(#g13)" />
<polyline points="2751.0,1137.0 2775.0,1125.0" fill="none" stroke="#b4b8b8" stroke-width="5" />
<polygon points="2838.0,1093.0 2886.0,1074.0 2900.0,1085.0 2900.0,1108.0 2855.0,1132.0 2838.0,1124.0" fill="url(#g14)" />
<polygon points="2838.0,1052.0 2873.0,1033.0 2884.0,1039.0 2884.0,1074.0 2850.0,1093.0 2838.0,1085.0" fill="url(#g14)" />
<polyline points="2846.0,1089.0 2870.0,1077.0" fill="none" stroke="#b4b8b8" stroke-width="5" />
<polygon points="2956.0,1023.0 3004.0,1004.0 3018.0,1015.0 3018.0,1038.0 2973.0,1062.0 2956.0,1054.0" fill="url(#g15)" />
<polygon points="2956.0,982.0 2991.0,963.0 3002.0,969.0 3002.0,1004.0 2968.0,1023.0 2956.0,1015.0" fill="url(#g15)" />
<polyline points="2964.0,1019.0 2988.0,1007.0" fill="none" stroke="#b4b8b8" stroke-width="5" />
<polygon points="3044.0,974.0 3092.0,955.0 3106.0,966.0 3106.0,989.0 3061.0,1013.0 3044.0,1005.0" fill="url(#g16)" />
<polygon points="3044.0,933.0 3079.0,914.0 3090.0,920.0 3090.0,955.0 3056.0,974.0 3044.0,966.0" fill="url(#g16)" />
<polyline points="3052.0,970.0 3076.0,958.0" fill="none" stroke="#b4b8b8" stroke-width="5" />
<polygon points="3135.0,928.0 3183.0,909.0 3197.0,920.0 3197.0,943.0 3152.0,967.0 3135.0,959.0" fill="url(#g17)" />
<polygon points="3135.0,887.0 3170.0,868.0 3181.0,874.0 3181.0,909.0 3147.0,928.0 3135.0,920.0" fill="url(#g17)" />
<polyline points="3143.0,924.0 3167.0,912.0" fill="none" stroke="#b4b8b8" stroke-width="5" />
<polygon points="2635.0,1251.0 2768.0,1300.0 2768.0,1313.0 2635.0,1264.0" fill="#b2b2b2" />
<polygon points="2768.0,1300.0 3358.0,974.0 3358.0,987.0 2768.0,1313.0" fill="#9f9f9f" />
<polygon points="2635.0,1251.0 3225.0,925.0 3358.0,974.0 2768.0,1300.0" fill="url(#g18)" />
<polyline points="2932.0,1087.0 3000.0,1112.0 3065.0,1136.0" fill="none" stroke="#bdbdbd" stroke-width="4" />
<polygon points="3297.0,991.0 3347.0,960.0 3353.0,965.0 3347.0,1001.0 3310.0,1026.0 3297.0,1019.0" fill="url(#g19)" />
<ellipse cx="3344" cy="935" rx="30" ry="11.5" transform="rotate(-57 3344 935)" fill="#6a6a6a"/>
<ellipse cx="3349" cy="936" rx="24" ry="5" transform="rotate(-57 3349 936)" fill="#525252"/>
<polygon points="3213.0,1040.0 3263.0,1009.0 3269.0,1014.0 3263.0,1050.0 3226.0,1075.0 3213.0,1068.0" fill="url(#g20)" />
<ellipse cx="3260" cy="984" rx="30" ry="11.5" transform="rotate(-57 3260 984)" fill="#6a6a6a"/>
<ellipse cx="3265" cy="985" rx="24" ry="5" transform="rotate(-57 3265 985)" fill="#525252"/>
<polygon points="3126.0,1093.0 3176.0,1062.0 3182.0,1067.0 3176.0,1103.0 3139.0,1128.0 3126.0,1121.0" fill="url(#g21)" />
<ellipse cx="3173" cy="1037" rx="30" ry="11.5" transform="rotate(-57 3173 1037)" fill="#6a6a6a"/>
<ellipse cx="3178" cy="1038" rx="24" ry="5" transform="rotate(-57 3178 1038)" fill="#525252"/>
<polygon points="2997.0,1155.0 3047.0,1124.0 3053.0,1129.0 3047.0,1165.0 3010.0,1190.0 2997.0,1183.0" fill="url(#g22)" />
<ellipse cx="3044" cy="1099" rx="30" ry="11.5" transform="rotate(-57 3044 1099)" fill="#6a6a6a"/>
<ellipse cx="3049" cy="1100" rx="24" ry="5" transform="rotate(-57 3049 1100)" fill="#525252"/>
<polygon points="2916.0,1204.0 2966.0,1173.0 2972.0,1178.0 2966.0,1214.0 2929.0,1239.0 2916.0,1232.0" fill="url(#g23)" />
<ellipse cx="2963" cy="1148" rx="30" ry="11.5" transform="rotate(-57 2963 1148)" fill="#6a6a6a"/>
<ellipse cx="2968" cy="1149" rx="24" ry="5" transform="rotate(-57 2968 1149)" fill="#525252"/>
<polygon points="2825.0,1257.0 2875.0,1226.0 2881.0,1231.0 2875.0,1267.0 2838.0,1292.0 2825.0,1285.0" fill="url(#g24)" />
<ellipse cx="2872" cy="1201" rx="30" ry="11.5" transform="rotate(-57 2872 1201)" fill="#6a6a6a"/>
<ellipse cx="2877" cy="1202" rx="24" ry="5" transform="rotate(-57 2877 1202)" fill="#525252"/>
<polygon points="2769.0,1323.0 3684.9,836.7 3684.9,1056.7 2769.0,1543.0" fill="url(#g25)" />
<polygon points="3573.0,921.0 3658.0,948.0 3658.0,1198.0 3573.0,1171.0" fill="#d3e3e9" />
<polygon points="3582.0,946.0 3649.0,967.0 3649.0,1198.0 3582.0,1171.0" fill="url(#st)" />
<polygon points="3573.0,921.0 3658.0,948.0 3658.0,968.0 3573.0,941.0" fill="#c2dde6" />
<polygon points="3658.0,948.0 3744.0,900.0 3744.0,1150.0 3658.0,1198.0" fill="url(#g26)" />
<polygon points="3573.0,921.0 3659.0,873.0 3744.0,900.0 3658.0,948.0" fill="url(#g27)" />
<polygon points="3678.0,956.0 3763.0,983.0 3763.0,1233.0 3678.0,1206.0" fill="#d3e3e9" />
<polygon points="3687.0,981.0 3754.0,1002.0 3754.0,1233.0 3687.0,1206.0" fill="url(#st)" />
<polygon points="3678.0,956.0 3763.0,983.0 3763.0,1003.0 3678.0,976.0" fill="#c2dde6" />
<polygon points="3763.0,983.0 3849.0,935.0 3849.0,1185.0 3763.0,1233.0" fill="url(#g28)" />
<polygon points="3678.0,956.0 3764.0,908.0 3849.0,935.0 3763.0,983.0" fill="url(#g29)" />
<polygon points="3783.0,991.0 3868.0,1018.0 3868.0,1268.0 3783.0,1241.0" fill="#d3e3e9" />
<polygon points="3792.0,1016.0 3859.0,1037.0 3859.0,1268.0 3792.0,1241.0" fill="url(#st)" />
<polygon points="3783.0,991.0 3868.0,1018.0 3868.0,1038.0 3783.0,1011.0" fill="#c2dde6" />
<polygon points="3868.0,1018.0 3954.0,970.0 3954.0,1220.0 3868.0,1268.0" fill="url(#g30)" />
<polygon points="3783.0,991.0 3869.0,943.0 3954.0,970.0 3868.0,1018.0" fill="url(#g31)" />
<polygon points="3888.0,1026.0 3973.0,1053.0 3973.0,1303.0 3888.0,1276.0" fill="#d3e3e9" />
<polygon points="3897.0,1051.0 3964.0,1072.0 3964.0,1303.0 3897.0,1276.0" fill="url(#st)" />
<polygon points="3888.0,1026.0 3973.0,1053.0 3973.0,1073.0 3888.0,1046.0" fill="#c2dde6" />
<polygon points="3973.0,1053.0 4059.0,1005.0 4059.0,1255.0 3973.0,1303.0" fill="url(#g32)" />
<polygon points="3888.0,1026.0 3974.0,978.0 4059.0,1005.0 3973.0,1053.0" fill="url(#g33)" />
<polygon points="3993.0,1061.0 4078.0,1088.0 4078.0,1338.0 3993.0,1311.0" fill="#d3e3e9" />
<polygon points="4002.0,1086.0 4069.0,1107.0 4069.0,1338.0 4002.0,1311.0" fill="url(#st)" />
<polygon points="3993.0,1061.0 4078.0,1088.0 4078.0,1108.0 3993.0,1081.0" fill="#c2dde6" />
<polygon points="4078.0,1088.0 4164.0,1040.0 4164.0,1290.0 4078.0,1338.0" fill="url(#g34)" />
<polygon points="3993.0,1061.0 4079.0,1013.0 4164.0,1040.0 4078.0,1088.0" fill="url(#g35)" />
<polygon points="4098.0,1096.0 4183.0,1123.0 4183.0,1373.0 4098.0,1346.0" fill="#d3e3e9" />
<polygon points="4107.0,1121.0 4174.0,1142.0 4174.0,1373.0 4107.0,1346.0" fill="url(#st)" />
<polygon points="4098.0,1096.0 4183.0,1123.0 4183.0,1143.0 4098.0,1116.0" fill="#c2dde6" />
<polygon points="4183.0,1123.0 4269.0,1075.0 4269.0,1325.0 4183.0,1373.0" fill="url(#g36)" />
<polygon points="4098.0,1096.0 4184.0,1048.0 4269.0,1075.0 4183.0,1123.0" fill="url(#g37)" />
<polygon points="3362.0,1037.0 3447.0,1064.0 3447.0,1314.0 3362.0,1287.0" fill="#d3e3e9" />
<polygon points="3371.0,1062.0 3438.0,1083.0 3438.0,1314.0 3371.0,1287.0" fill="url(#st)" />
<polygon points="3362.0,1037.0 3447.0,1064.0 3447.0,1084.0 3362.0,1057.0" fill="#c2dde6" />
<polygon points="3447.0,1064.0 3533.0,1016.0 3533.0,1266.0 3447.0,1314.0" fill="url(#g38)" />
<polygon points="3362.0,1037.0 3448.0,989.0 3533.0,1016.0 3447.0,1064.0" fill="url(#g39)" />
<polygon points="3467.0,1072.0 3552.0,1099.0 3552.0,1349.0 3467.0,1322.0" fill="#d3e3e9" />
<polygon points="3476.0,1097.0 3543.0,1118.0 3543.0,1349.0 3476.0,1322.0" fill="url(#st)" />
<polygon points="3467.0,1072.0 3552.0,1099.0 3552.0,1119.0 3467.0,1092.0" fill="#c2dde6" />
<polygon points="3552.0,1099.0 3638.0,1051.0 3638.0,1301.0 3552.0,1349.0" fill="url(#g40)" />
<polygon points="3467.0,1072.0 3553.0,1024.0 3638.0,1051.0 3552.0,1099.0" fill="url(#g41)" />
<polygon points="3572.0,1107.0 3657.0,1134.0 3657.0,1384.0 3572.0,1357.0" fill="#d3e3e9" />
<polygon points="3581.0,1132.0 3648.0,1153.0 3648.0,1384.0 3581.0,1357.0" fill="url(#st)" />
<polygon points="3572.0,1107.0 3657.0,1134.0 3657.0,1154.0 3572.0,1127.0" fill="#c2dde6" />
<polygon points="3657.0,1134.0 3743.0,1086.0 3743.0,1336.0 3657.0,1384.0" fill="url(#g42)" />
<polygon points="3572.0,1107.0 3658.0,1059.0 3743.0,1086.0 3657.0,1134.0" fill="url(#g43)" />
<polygon points="3677.0,1142.0 3762.0,1169.0 3762.0,1419.0 3677.0,1392.0" fill="#d3e3e9" />
<polygon points="3686.0,1167.0 3753.0,1188.0 3753.0,1419.0 3686.0,1392.0" fill="url(#st)" />
<polygon points="3677.0,1142.0 3762.0,1169.0 3762.0,1189.0 3677.0,1162.0" fill="#c2dde6" />
<polygon points="3762.0,1169.0 3848.0,1121.0 3848.0,1371.0 3762.0,1419.0" fill="url(#g44)" />
<polygon points="3677.0,1142.0 3763.0,1094.0 3848.0,1121.0 3762.0,1169.0" fill="url(#g45)" />
<polygon points="3782.0,1177.0 3867.0,1204.0 3867.0,1454.0 3782.0,1427.0" fill="#d3e3e9" />
<polygon points="3791.0,1202.0 3858.0,1223.0 3858.0,1454.0 3791.0,1427.0" fill="url(#st)" />
<polygon points="3782.0,1177.0 3867.0,1204.0 3867.0,1224.0 3782.0,1197.0" fill="#c2dde6" />
<polygon points="3867.0,1204.0 3953.0,1156.0 3953.0,1406.0 3867.0,1454.0" fill="url(#g46)" />
<polygon points="3782.0,1177.0 3868.0,1129.0 3953.0,1156.0 3867.0,1204.0" fill="url(#g47)" />
<polygon points="3887.0,1212.0 3972.0,1239.0 3972.0,1489.0 3887.0,1462.0" fill="#d3e3e9" />
<polygon points="3896.0,1237.0 3963.0,1258.0 3963.0,1489.0 3896.0,1462.0" fill="url(#st)" />
<polygon points="3887.0,1212.0 3972.0,1239.0 3972.0,1259.0 3887.0,1232.0" fill="#c2dde6" />
<polygon points="3972.0,1239.0 4058.0,1191.0 4058.0,1441.0 3972.0,1489.0" fill="url(#g48)" />
<polygon points="3887.0,1212.0 3973.0,1164.0 4058.0,1191.0 3972.0,1239.0" fill="url(#g49)" />
<polygon points="3161.0,1445.0 3437.0,1308.0 3437.0,1528.0 3161.0,1665.0" fill="url(#g50)" />
<polygon points="3437.0,1308.0 3780.3,1414.4 3780.3,1634.4 3437.0,1528.0" fill="url(#g51)" />
<polygon points="3534.0,1356.0 3650.0,1395.0 3650.0,1595.0 3534.0,1556.0" fill="#8d8d8d" />
<polygon points="3542.0,1366.7 3642.0,1400.3 3642.0,1592.3 3542.0,1558.7" fill="url(#g52)" />
<polygon points="3618.0,1492.0 3640.0,1499.0 3640.0,1508.0 3618.0,1501.0" fill="#8f8f8f" />
<polygon points="2197.0,1144.0 3517.8,1556.6 3517.8,1776.6 2197.0,1364.0" fill="url(#g53)" />
<polygon points="2338.0,1206.0 2448.0,1245.0 2448.0,1443.0 2338.0,1404.0" fill="#7b7b7b" />
<polygon points="2346.0,1216.8 2440.0,1250.2 2440.0,1440.2 2346.0,1406.8" fill="url(#g54)" />
<polygon points="3275.0,1510.0 3392.0,1546.0 3392.0,1746.0 3275.0,1710.0" fill="#757575" />
<polygon points="3283.0,1520.5 3384.0,1551.5 3384.0,1743.5 3283.0,1712.5" fill="url(#g55)" />
<polygon points="3362.0,1668.0 3384.0,1675.0 3384.0,1683.0 3362.0,1676.0" fill="#7a7a7a" />
<polygon points="1976.0,1268.0 2094.0,1213.0 2094.0,1409.0 1976.0,1464.0" fill="#818181" />
<polygon points="1984.0,1272.3 2086.0,1224.7 2086.0,1412.7 1984.0,1460.3" fill="url(#g56)" />
<polygon points="2050.0,1352.0 2072.0,1341.0 2072.0,1350.0 2050.0,1361.0" fill="#8a8a8a" />
<polygon points="1916.0,1315.5 1871.0,1300.5 1494.5,1502.5 1539.5,1517.5" fill="#eeeee7" />
<polygon points="1996.0,1342.0 1916.0,1315.5 1539.5,1517.5 1619.2,1544.1" fill="#f9f9f5" />
<polygon points="1996.0,1342.0 1619.2,1544.1 1829.5,1614.3 1996.0,1525.0" fill="url(#g57)" />
<polyline points="1700.0,1506.8 1700.0,1683.8" fill="none" stroke="#e0e0d7" stroke-width="5" />
<polyline points="1762.0,1473.5 1762.0,1650.5" fill="none" stroke="#e0e0d7" stroke-width="5" />
<polyline points="1824.0,1440.3 1824.0,1617.3" fill="none" stroke="#e0e0d7" stroke-width="5" />
<polyline points="1886.0,1407.0 1886.0,1584.0" fill="none" stroke="#e0e0d7" stroke-width="5" />
<polyline points="1945.0,1375.4 1945.0,1552.4" fill="none" stroke="#e0e0d7" stroke-width="5" />
<polygon points="1660.0,1552.3 1690.0,1536.2 1690.0,1550.2 1660.0,1566.3" fill="#e2e2da" />
<polygon points="1730.0,1514.7 1760.0,1498.6 1760.0,1512.6 1730.0,1528.7" fill="#e2e2da" />
<polygon points="1792.0,1481.4 1822.0,1465.4 1822.0,1479.4 1792.0,1495.4" fill="#e2e2da" />
<polygon points="1855.0,1447.6 1885.0,1431.6 1885.0,1445.6 1855.0,1461.6" fill="#e2e2da" />
<g>
<polygon points="1537.3,1384.0 1555.3,1394.2 1563.8,1416.0 1576.5,1437.8 1582.9,1463.4 1585.0,1489.0 1577.6,1508.2 1555.3,1512.0 1534.1,1503.0 1510.8,1512.0 1487.5,1505.6 1479.0,1483.8 1485.4,1460.8 1498.1,1441.6 1502.3,1416.0 1517.2,1394.2" fill="#56895a" />
<g clip-path="url(#c4)">
<rect x="1479" y="1384" width="7" height="7" fill="#a6c0a0"/>
<rect x="1479" y="1391" width="7" height="7" fill="#a6c0a0"/>
<rect x="1479" y="1398" width="7" height="7" fill="#7fa374"/>
<rect x="1479" y="1419" width="7" height="7" fill="#8fb088"/>
<rect x="1479" y="1433" width="7" height="7" fill="#8fb088"/>
<rect x="1479" y="1440" width="7" height="7" fill="#6a956a"/>
<rect x="1479" y="1454" width="7" height="7" fill="#a6c0a0"/>
<rect x="1479" y="1475" width="7" height="7" fill="#2f6e3c"/>
<rect x="1479" y="1482" width="7" height="7" fill="#a6c0a0"/>
<rect x="1479" y="1496" width="7" height="7" fill="#8fb088"/>
<rect x="1479" y="1503" width="7" height="7" fill="#6a956a"/>
<rect x="1479" y="1510" width="7" height="7" fill="#8fb088"/>
<rect x="1486" y="1391" width="7" height="7" fill="#a6c0a0"/>
<rect x="1486" y="1398" width="7" height="7" fill="#7fa374"/>
<rect x="1486" y="1405" width="7" height="7" fill="#7fa374"/>
<rect x="1486" y="1412" width="7" height="7" fill="#4a8450"/>
<rect x="1486" y="1419" width="7" height="7" fill="#2f6e3c"/>
<rect x="1486" y="1426" width="7" height="7" fill="#1f6334"/>
<rect x="1486" y="1433" width="7" height="7" fill="#7fa374"/>
<rect x="1486" y="1440" width="7" height="7" fill="#3c7a45"/>
<rect x="1486" y="1447" width="7" height="7" fill="#a6c0a0"/>
<rect x="1486" y="1454" width="7" height="7" fill="#5e8f63"/>
<rect x="1486" y="1461" width="7" height="7" fill="#8fb088"/>
<rect x="1486" y="1468" width="7" height="7" fill="#1f6334"/>
<rect x="1486" y="1475" width="7" height="7" fill="#8fb088"/>
<rect x="1486" y="1489" width="7" height="7" fill="#1f6334"/>
<rect x="1486" y="1510" width="7" height="7" fill="#1f6334"/>
<rect x="1493" y="1384" width="7" height="7" fill="#7fa374"/>
<rect x="1493" y="1391" width="7" height="7" fill="#1f6334"/>
<rect x="1493" y="1398" width="7" height="7" fill="#2f6e3c"/>
<rect x="1493" y="1405" width="7" height="7" fill="#5e8f63"/>
<rect x="1493" y="1412" width="7" height="7" fill="#7fa374"/>
<rect x="1493" y="1419" width="7" height="7" fill="#5e8f63"/>
<rect x="1493" y="1426" width="7" height="7" fill="#6a956a"/>
<rect x="1493" y="1433" width="7" height="7" fill="#4a8450"/>
<rect x="1493" y="1440" width="7" height="7" fill="#7fa374"/>
<rect x="1493" y="1447" width="7" height="7" fill="#7fa374"/>
<rect x="1493" y="1454" width="7" height="7" fill="#8fb088"/>
<rect x="1493" y="1468" width="7" height="7" fill="#3c7a45"/>
<rect x="1493" y="1503" width="7" height="7" fill="#7fa374"/>
<rect x="1493" y="1510" width="7" height="7" fill="#8fb088"/>
<rect x="1500" y="1384" width="7" height="7" fill="#8fb088"/>
<rect x="1500" y="1391" width="7" height="7" fill="#5e8f63"/>
<rect x="1500" y="1398" width="7" height="7" fill="#2f6e3c"/>
<rect x="1500" y="1405" width="7" height="7" fill="#6a956a"/>
<rect x="1500" y="1412" width="7" height="7" fill="#a6c0a0"/>
<rect x="1500" y="1419" width="7" height="7" fill="#4a8450"/>
<rect x="1500" y="1433" width="7" height="7" fill="#1f6334"/>
<rect x="1500" y="1440" width="7" height="7" fill="#6a956a"/>
<rect x="1500" y="1447" width="7" height="7" fill="#6a956a"/>
<rect x="1500" y="1454" width="7" height="7" fill="#2f6e3c"/>
<rect x="1500" y="1461" width="7" height="7" fill="#a6c0a0"/>
<rect x="1500" y="1475" width="7" height="7" fill="#6a956a"/>
<rect x="1500" y="1503" width="7" height="7" fill="#4a8450"/>
<rect x="1500" y="1510" width="7" height="7" fill="#2f6e3c"/>
<rect x="1507" y="1384" width="7" height="7" fill="#3c7a45"/>
<rect x="1507" y="1398" width="7" height="7" fill="#5e8f63"/>
<rect x="1507" y="1405" width="7" height="7" fill="#5e8f63"/>
<rect x="1507" y="1412" width="7" height="7" fill="#8fb088"/>
<rect x="1507" y="1426" width="7" height="7" fill="#7fa374"/>
<rect x="1507" y="1433" width="7" height="7" fill="#1f6334"/>
<rect x="1507" y="1440" width="7" height="7" fill="#2f6e3c"/>
<rect x="1507" y="1447" width="7" height="7" fill="#8fb088"/>
<rect x="1507" y="1454" width="7" height="7" fill="#a6c0a0"/>
<rect x="1507" y="1461" width="7" height="7" fill="#a6c0a0"/>
<rect x="1507" y="1468" width="7" height="7" fill="#3c7a45"/>
<rect x="1507" y="1482" width="7" height="7" fill="#3c7a45"/>
<rect x="1507" y="1489" width="7" height="7" fill="#5e8f63"/>
<rect x="1507" y="1503" width="7" height="7" fill="#3c7a45"/>
<rect x="1507" y="1510" width="7" height="7" fill="#7fa374"/>
<rect x="1514" y="1384" width="7" height="7" fill="#8fb088"/>
<rect x="1514" y="1398" width="7" height="7" fill="#a6c0a0"/>
<rect x="1514" y="1412" width="7" height="7" fill="#2f6e3c"/>
<rect x="1514" y="1426" width="7" height="7" fill="#4a8450"/>
<rect x="1514" y="1433" width="7" height="7" fill="#5e8f63"/>
<rect x="1514" y="1440" width="7" height="7" fill="#2f6e3c"/>
<rect x="1514" y="1454" width="7" height="7" fill="#8fb088"/>
<rect x="1514" y="1482" width="7" height="7" fill="#6a956a"/>
<rect x="1514" y="1503" width="7" height="7" fill="#5e8f63"/>
<rect x="1514" y="1510" width="7" height="7" fill="#6a956a"/>
<rect x="1521" y="1384" width="7" height="7" fill="#4a8450"/>
<rect x="1521" y="1391" width="7" height="7" fill="#2f6e3c"/>
<rect x="1521" y="1398" width="7" height="7" fill="#5e8f63"/>
<rect x="1521" y="1405" width="7" height="7" fill="#6a956a"/>
<rect x="1521" y="1412" width="7" height="7" fill="#5e8f63"/>
<rect x="1521" y="1419" width="7" height="7" fill="#8fb088"/>
<rect x="1521" y="1426" width="7" height="7" fill="#4a8450"/>
<rect x="1521" y="1447" width="7" height="7" fill="#2f6e3c"/>
<rect x="1521" y="1454" width="7" height="7" fill="#1f6334"/>
<rect x="1521" y="1468" width="7" height="7" fill="#5e8f63"/>
<rect x="1521" y="1482" width="7" height="7" fill="#3c7a45"/>
<rect x="1521" y="1489" width="7" height="7" fill="#5e8f63"/>
<rect x="1521" y="1496" width="7" height="7" fill="#8fb088"/>
<rect x="1521" y="1510" width="7" height="7" fill="#1f6334"/>
<rect x="1528" y="1384" width="7" height="7" fill="#7fa374"/>
<rect x="1528" y="1391" width="7" height="7" fill="#5e8f63"/>
<rect x="1528" y="1405" width="7" height="7" fill="#5e8f63"/>
<rect x="1528" y="1419" width="7" height="7" fill="#5e8f63"/>
<rect x="1528" y="1426" width="7" height="7" fill="#1f6334"/>
<rect x="1528" y="1440" width="7" height="7" fill="#1f6334"/>
<rect x="1528" y="1447" width="7" height="7" fill="#3c7a45"/>
<rect x="1528" y="1461" width="7" height="7" fill="#a6c0a0"/>
<rect x="1528" y="1468" width="7" height="7" fill="#8fb088"/>
<rect x="1528" y="1475" width="7" height="7" fill="#8fb088"/>
<rect x="1528" y="1482" width="7" height="7" fill="#6a956a"/>
<rect x="1528" y="1489" width="7" height="7" fill="#5e8f63"/>
<rect x="1528" y="1496" width="7" height="7" fill="#a6c0a0"/>
<rect x="1528" y="1503" width="7" height="7" fill="#1f6334"/>
<rect x="1528" y="1510" width="7" height="7" fill="#6a956a"/>
<rect x="1535" y="1384" width="7" height="7" fill="#5e8f63"/>
<rect x="1535" y="1391" width="7" height="7" fill="#4a8450"/>
<rect x="1535" y="1398" width="7" height="7" fill="#6a956a"/>
<rect x="1535" y="1405" width="7" height="7" fill="#8fb088"/>
<rect x="1535" y="1412" width="7" height="7" fill="#6a956a"/>
<rect x="1535" y="1419" width="7" height="7" fill="#1f6334"/>
<rect x="1535" y="1433" width="7" height="7" fill="#2f6e3c"/>
<rect x="1535" y="1447" width="7" height="7" fill="#3c7a45"/>
<rect x="1535" y="1454" width="7" height="7" fill="#6a956a"/>
<rect x="1535" y="1461" width="7" height="7" fill="#2f6e3c"/>
<rect x="1535" y="1468" width="7" height="7" fill="#a6c0a0"/>
<rect x="1535" y="1475" width="7" height="7" fill="#3c7a45"/>
<rect x="1535" y="1482" width="7" height="7" fill="#7fa374"/>
<rect x="1535" y="1489" width="7" height="7" fill="#6a956a"/>
<rect x="1535" y="1496" width="7" height="7" fill="#8fb088"/>
<rect x="1535" y="1503" width="7" height="7" fill="#1f6334"/>
<rect x="1542" y="1384" width="7" height="7" fill="#a6c0a0"/>
<rect x="1542" y="1391" width="7" height="7" fill="#7fa374"/>
<rect x="1542" y="1398" width="7" height="7" fill="#3c7a45"/>
<rect x="1542" y="1405" width="7" height="7" fill="#5e8f63"/>
<rect x="1542" y="1412" width="7" height="7" fill="#a6c0a0"/>
<rect x="1542" y="1419" width="7" height="7" fill="#7fa374"/>
<rect x="1542" y="1426" width="7" height="7" fill="#1f6334"/>
<rect x="1542" y="1440" width="7" height="7" fill="#4a8450"/>
<rect x="1542" y="1454" width="7" height="7" fill="#1f6334"/>
<rect x="1542" y="1468" width="7" height="7" fill="#4a8450"/>
<rect x="1542" y="1475" width="7" height="7" fill="#4a8450"/>
<rect x="1542" y="1482" width="7" height="7" fill="#2f6e3c"/>
<rect x="1542" y="1503" width="7" height="7" fill="#a6c0a0"/>
<rect x="1542" y="1510" width="7" height="7" fill="#5e8f63"/>
<rect x="1549" y="1384" width="7" height="7" fill="#7fa374"/>
<rect x="1549" y="1391" width="7" height="7" fill="#4a8450"/>
<rect x="1549" y="1398" width="7" height="7" fill="#3c7a45"/>
<rect x="1549" y="1412" width="7" height="7" fill="#8fb088"/>
<rect x="1549" y="1426" width="7" height="7" fill="#4a8450"/>
<rect x="1549" y="1447" width="7" height="7" fill="#1f6334"/>
<rect x="1549" y="1454" width="7" height="7" fill="#a6c0a0"/>
<rect x="1549" y="1461" width="7" height="7" fill="#5e8f63"/>
<rect x="1549" y="1475" width="7" height="7" fill="#4a8450"/>
<rect x="1549" y="1482" width="7" height="7" fill="#5e8f63"/>
<rect x="1549" y="1496" width="7" height="7" fill="#a6c0a0"/>
<rect x="1549" y="1503" width="7" height="7" fill="#6a956a"/>
<rect x="1549" y="1510" width="7" height="7" fill="#2f6e3c"/>
<rect x="1556" y="1384" width="7" height="7" fill="#5e8f63"/>
<rect x="1556" y="1391" width="7" height="7" fill="#4a8450"/>
<rect x="1556" y="1398" width="7" height="7" fill="#4a8450"/>
<rect x="1556" y="1405" width="7" height="7" fill="#7fa374"/>
<rect x="1556" y="1426" width="7" height="7" fill="#a6c0a0"/>
<rect x="1556" y="1447" width="7" height="7" fill="#5e8f63"/>
<rect x="1556" y="1461" width="7" height="7" fill="#6a956a"/>
<rect x="1556" y="1468" width="7" height="7" fill="#3c7a45"/>
<rect x="1556" y="1482" width="7" height="7" fill="#3c7a45"/>
<rect x="1556" y="1489" width="7" height="7" fill="#1f6334"/>
<rect x="1556" y="1496" width="7" height="7" fill="#5e8f63"/>
<rect x="1556" y="1510" width="7" height="7" fill="#7fa374"/>
<rect x="1563" y="1384" width="7" height="7" fill="#5e8f63"/>
<rect x="1563" y="1391" width="7" height="7" fill="#8fb088"/>
<rect x="1563" y="1398" width="7" height="7" fill="#2f6e3c"/>
<rect x="1563" y="1405" width="7" height="7" fill="#3c7a45"/>
<rect x="1563" y="1412" width="7" height="7" fill="#2f6e3c"/>
<rect x="1563" y="1419" width="7" height="7" fill="#2f6e3c"/>
<rect x="1563" y="1433" width="7" height="7" fill="#5e8f63"/>
<rect x="1563" y="1440" width="7" height="7" fill="#1f6334"/>
<rect x="1563" y="1447" width="7" height="7" fill="#3c7a45"/>
<rect x="1563" y="1454" width="7" height="7" fill="#2f6e3c"/>
<rect x="1563" y="1461" width="7" height="7" fill="#a6c0a0"/>
<rect x="1563" y="1475" width="7" height="7" fill="#5e8f63"/>
<rect x="1563" y="1482" width="7" height="7" fill="#7fa374"/>
<rect x="1563" y="1489" width="7" height="7" fill="#4a8450"/>
<rect x="1563" y="1496" width="7" height="7" fill="#7fa374"/>
<rect x="1563" y="1503" width="7" height="7" fill="#5e8f63"/>
<rect x="1563" y="1510" width="7" height="7" fill="#3c7a45"/>
<rect x="1570" y="1384" width="7" height="7" fill="#5e8f63"/>
<rect x="1570" y="1391" width="7" height="7" fill="#a6c0a0"/>
<rect x="1570" y="1398" width="7" height="7" fill="#2f6e3c"/>
<rect x="1570" y="1405" width="7" height="7" fill="#6a956a"/>
<rect x="1570" y="1412" width="7" height="7" fill="#8fb088"/>
<rect x="1570" y="1419" width="7" height="7" fill="#7fa374"/>
<rect x="1570" y="1426" width="7" height="7" fill="#3c7a45"/>
<rect x="1570" y="1447" width="7" height="7" fill="#8fb088"/>
<rect x="1570" y="1454" width="7" height="7" fill="#4a8450"/>
<rect x="1570" y="1461" width="7" height="7" fill="#8fb088"/>
<rect x="1570" y="1475" width="7" height="7" fill="#2f6e3c"/>
<rect x="1570" y="1482" width="7" height="7" fill="#8fb088"/>
<rect x="1570" y="1489" width="7" height="7" fill="#2f6e3c"/>
<rect x="1570" y="1496" width="7" height="7" fill="#7fa374"/>
<rect x="1570" y="1503" width="7" height="7" fill="#a6c0a0"/>
<rect x="1570" y="1510" width="7" height="7" fill="#1f6334"/>
<rect x="1577" y="1391" width="7" height="7" fill="#3c7a45"/>
<rect x="1577" y="1398" width="7" height="7" fill="#4a8450"/>
<rect x="1577" y="1405" width="7" height="7" fill="#8fb088"/>
<rect x="1577" y="1412" width="7" height="7" fill="#4a8450"/>
<rect x="1577" y="1426" width="7" height="7" fill="#8fb088"/>
<rect x="1577" y="1433" width="7" height="7" fill="#7fa374"/>
<rect x="1577" y="1440" width="7" height="7" fill="#7fa374"/>
<rect x="1577" y="1447" width="7" height="7" fill="#1f6334"/>
<rect x="1577" y="1454" width="7" height="7" fill="#6a956a"/>
<rect x="1577" y="1461" width="7" height="7" fill="#5e8f63"/>
<rect x="1577" y="1475" width="7" height="7" fill="#3c7a45"/>
<rect x="1577" y="1489" width="7" height="7" fill="#6a956a"/>
<rect x="1577" y="1496" width="7" height="7" fill="#4a8450"/>
<rect x="1577" y="1503" width="7" height="7" fill="#1f6334"/>
<rect x="1577" y="1510" width="7" height="7" fill="#4a8450"/>
<rect x="1584" y="1384" width="7" height="7" fill="#2f6e3c"/>
<rect x="1584" y="1391" width="7" height="7" fill="#7fa374"/>
<rect x="1584" y="1398" width="7" height="7" fill="#7fa374"/>
<rect x="1584" y="1405" width="7" height="7" fill="#1f6334"/>
<rect x="1584" y="1412" width="7" height="7" fill="#7fa374"/>
<rect x="1584" y="1419" width="7" height="7" fill="#a6c0a0"/>
<rect x="1584" y="1440" width="7" height="7" fill="#6a956a"/>
<rect x="1584" y="1447" width="7" height="7" fill="#4a8450"/>
<rect x="1584" y="1454" width="7" height="7" fill="#8fb088"/>
<rect x="1584" y="1461" width="7" height="7" fill="#a6c0a0"/>
<rect x="1584" y="1468" width="7" height="7" fill="#8fb088"/>
<rect x="1584" y="1482" width="7" height="7" fill="#1f6334"/>
<rect x="1584" y="1489" width="7" height="7" fill="#a6c0a0"/>
<rect x="1584" y="1496" width="7" height="7" fill="#6a956a"/>
<rect x="1584" y="1503" width="7" height="7" fill="#4a8450"/>
<rect x="1584" y="1510" width="7" height="7" fill="#8fb088"/>
</g></g>
<polygon points="2462.0,1495.0 2502.0,1504.0 2514.0,1516.0 2514.0,1538.0 2462.0,1538.0" fill="url(#g58)" />
<polygon points="2445.0,1538.0 2514.0,1540.0 2516.0,1576.0 2482.0,1568.0 2445.0,1560.0" fill="url(#g58)" />
<polyline points="2448.0,1537.0 2488.0,1539.0" fill="none" stroke="#a9a9a9" stroke-width="4" />
<polygon points="2312.0,1594.0 2322.8,1597.0 2322.8,1631.0 2312.0,1628.0" fill="#a8a8a8" />
<polygon points="2383.3,1613.8 2467.0,1637.0 2467.0,1718.0 2383.3,1694.8" fill="url(#g59)" />
<polygon points="2467.0,1637.0 2550.0,1592.0 2550.0,1673.0 2467.0,1718.0" fill="url(#g60)" />
<polygon points="2312.0,1594.0 2383.3,1613.8 2383.3,1626.8 2312.0,1607.0" fill="#b1b1b1" />
<polygon points="2312.0,1594.0 2395.0,1549.0 2550.0,1592.0 2467.0,1637.0" fill="url(#g61)" />
<polygon points="2724.0,1583.0 2764.0,1592.0 2776.0,1604.0 2776.0,1626.0 2724.0,1626.0" fill="url(#g62)" />
<polygon points="2707.0,1626.0 2776.0,1628.0 2778.0,1664.0 2744.0,1656.0 2707.0,1648.0" fill="url(#g62)" />
<polyline points="2710.0,1625.0 2750.0,1627.0" fill="none" stroke="#a9a9a9" stroke-width="4" />
<polygon points="2574.0,1682.0 2584.8,1685.0 2584.8,1719.0 2574.0,1716.0" fill="#a8a8a8" />
<polygon points="2645.3,1701.8 2729.0,1725.0 2729.0,1806.0 2645.3,1782.8" fill="url(#g63)" />
<polygon points="2729.0,1725.0 2812.0,1680.0 2812.0,1761.0 2729.0,1806.0" fill="url(#g64)" />
<polygon points="2574.0,1682.0 2645.3,1701.8 2645.3,1714.8 2574.0,1695.0" fill="#b1b1b1" />
<polygon points="2574.0,1682.0 2657.0,1637.0 2812.0,1680.0 2729.0,1725.0" fill="url(#g65)" />
<polygon points="2986.0,1671.0 3026.0,1680.0 3038.0,1692.0 3038.0,1714.0 2986.0,1714.0" fill="url(#g66)" />
<polygon points="2969.0,1714.0 3038.0,1716.0 3040.0,1752.0 3006.0,1744.0 2969.0,1736.0" fill="url(#g66)" />
<polyline points="2972.0,1713.0 3012.0,1715.0" fill="none" stroke="#a9a9a9" stroke-width="4" />
<polygon points="2836.0,1770.0 2846.8,1773.0 2846.8,1807.0 2836.0,1804.0" fill="#a8a8a8" />
<polygon points="2907.3,1789.8 2991.0,1813.0 2991.0,1894.0 2907.3,1870.8" fill="url(#g67)" />
<polygon points="2991.0,1813.0 3074.0,1768.0 3074.0,1849.0 2991.0,1894.0" fill="url(#g68)" />
<polygon points="2836.0,1770.0 2907.3,1789.8 2907.3,1802.8 2836.0,1783.0" fill="#b1b1b1" />
<polygon points="2836.0,1770.0 2919.0,1725.0 3074.0,1768.0 2991.0,1813.0" fill="url(#g69)" />
<polygon points="2279.0,1584.0 2319.0,1593.0 2331.0,1605.0 2331.0,1627.0 2279.0,1627.0" fill="url(#g70)" />
<polygon points="2262.0,1627.0 2331.0,1629.0 2333.0,1665.0 2299.0,1657.0 2262.0,1649.0" fill="url(#g70)" />
<polyline points="2265.0,1626.0 2305.0,1628.0" fill="none" stroke="#a9a9a9" stroke-width="4" />
<polygon points="2129.0,1683.0 2139.8,1686.0 2139.8,1720.0 2129.0,1717.0" fill="#a8a8a8" />
<polygon points="2200.3,1702.8 2284.0,1726.0 2284.0,1807.0 2200.3,1783.8" fill="url(#g71)" />
<polygon points="2284.0,1726.0 2367.0,1681.0 2367.0,1762.0 2284.0,1807.0" fill="url(#g72)" />
<polygon points="2129.0,1683.0 2200.3,1702.8 2200.3,1715.8 2129.0,1696.0" fill="#b1b1b1" />
<polygon points="2129.0,1683.0 2212.0,1638.0 2367.0,1681.0 2284.0,1726.0" fill="url(#g73)" />
<polygon points="2541.0,1672.0 2581.0,1681.0 2593.0,1693.0 2593.0,1715.0 2541.0,1715.0" fill="url(#g74)" />
<polygon points="2524.0,1715.0 2593.0,1717.0 2595.0,1753.0 2561.0,1745.0 2524.0,1737.0" fill="url(#g74)" />
<polyline points="2527.0,1714.0 2567.0,1716.0" fill="none" stroke="#a9a9a9" stroke-width="4" />
<polygon points="2391.0,1771.0 2401.8,1774.0 2401.8,1808.0 2391.0,1805.0" fill="#a8a8a8" />
<polygon points="2462.3,1790.8 2546.0,1814.0 2546.0,1895.0 2462.3,1871.8" fill="url(#g75)" />
<polygon points="2546.0,1814.0 2629.0,1769.0 2629.0,1850.0 2546.0,1895.0" fill="url(#g76)" />
<polygon points="2391.0,1771.0 2462.3,1790.8 2462.3,1803.8 2391.0,1784.0" fill="#b1b1b1" />
<polygon points="2391.0,1771.0 2474.0,1726.0 2629.0,1769.0 2546.0,1814.0" fill="url(#g77)" />
<polygon points="2803.0,1760.0 2843.0,1769.0 2855.0,1781.0 2855.0,1803.0 2803.0,1803.0" fill="url(#g78)" />
<polygon points="2786.0,1803.0 2855.0,1805.0 2857.0,1841.0 2823.0,1833.0 2786.0,1825.0" fill="url(#g78)" />
<polyline points="2789.0,1802.0 2829.0,1804.0" fill="none" stroke="#a9a9a9" stroke-width="4" />
<polygon points="2653.0,1859.0 2663.8,1862.0 2663.8,1896.0 2653.0,1893.0" fill="#a8a8a8" />
<polygon points="2724.3,1878.8 2808.0,1902.0 2808.0,1983.0 2724.3,1959.8" fill="url(#g79)" />
<polygon points="2808.0,1902.0 2891.0,1857.0 2891.0,1938.0 2808.0,1983.0" fill="url(#g80)" />
<polygon points="2653.0,1859.0 2724.3,1878.8 2724.3,1891.8 2653.0,1872.0" fill="#b1b1b1" />
<polygon points="2653.0,1859.0 2736.0,1814.0 2891.0,1857.0 2808.0,1902.0" fill="url(#g81)" />
<polygon points="855.0,1289.0 2808.0,1941.0 2808.0,2159.0 855.0,1512.0" fill="url(#g82)" />
<polygon points="2808.0,1941.0 4396.0,1081.0 4396.0,1306.0 2808.0,2159.0" fill="url(#g83)" />
<polyline points="2038.0,1316.0 1515.0,1716.0" fill="none" stroke="#0a0505" stroke-width="13" />
<circle cx="2038" cy="1316" r="21.5" fill="#0a0505"/>
<polyline points="3526.0,1492.0 3812.0,1845.0" fill="none" stroke="#0a0505" stroke-width="13" />
<circle cx="3526" cy="1492" r="21.5" fill="#0a0505"/>
<rect x="455" y="1712" width="1470" height="10" fill="#767474"/>
<rect x="405" y="1718" width="1566" height="152" rx="52" ry="52" fill="#080404"/>
<rect x="3355" y="1838" width="1285" height="10" fill="#bdbbbc"/>
<rect x="3309" y="1844" width="1375" height="146" rx="46" ry="46" fill="#080404"/>
<text x="2880" y="846" font-size="114" fill="#0b0707" xml:space="preserve" letter-spacing="0.6">Secured area 2</text>
<text x="3407" y="1231" font-size="113.5" fill="#0b0707" xml:space="preserve" >Sever room</text>
<text x="2125" y="1627" font-size="113" fill="#0b0707" xml:space="preserve" >Secured area 1</text>
<text x="476" y="1842" font-size="117" fill="#ffffff" xml:space="preserve" stroke="#ffffff" stroke-width="5" stroke-linejoin="round" paint-order="stroke">Exit / entry  of secured area</text>
<text x="3448" y="1958" font-size="117" fill="#ffffff" xml:space="preserve" stroke="#ffffff" stroke-width="5" stroke-linejoin="round" paint-order="stroke">Critical room ( server )</text>
<text x="495" y="2022" font-size="118" fill="#0b0707" xml:space="preserve" letter-spacing="1">- Tailgating</text>
<text x="495" y="2180" font-size="116" fill="#0b0707" xml:space="preserve" >- Cross entry</text>
<text x="3448" y="2148" font-size="116.5" fill="#0b0707" xml:space="preserve" >- Restrict  entry</text></svg></body></html>
